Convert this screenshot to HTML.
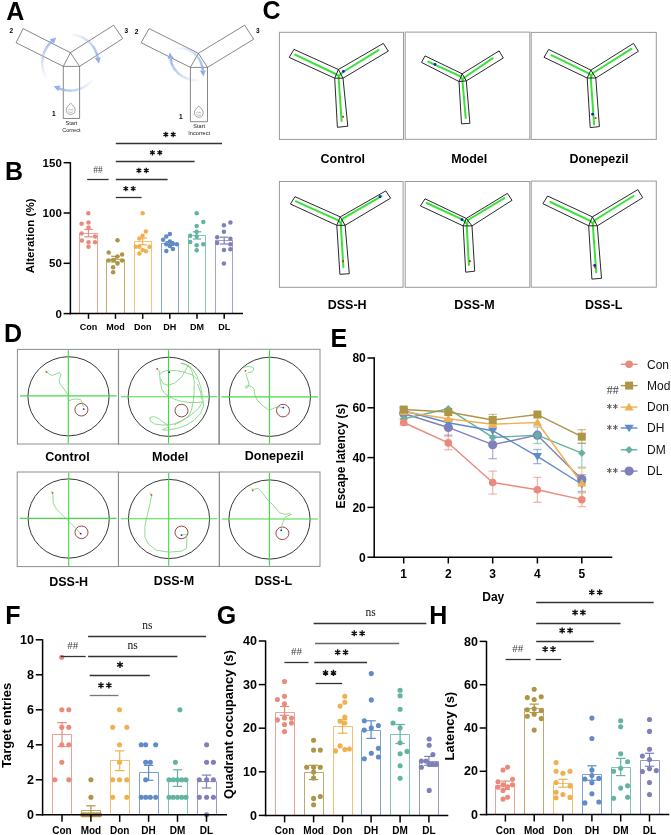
<!DOCTYPE html>
<html><head><meta charset="utf-8"><style>
html,body{margin:0;padding:0;background:#fff;}
body{width:671px;height:835px;overflow:hidden;font-family:"Liberation Sans", sans-serif;}
svg{display:block;will-change:transform;}
</style></head><body>
<svg width="671" height="835" viewBox="0 0 671 835">
<rect x="0" y="0" width="671" height="835" fill="#fff"/>
<text x="6.20" y="19.80" font-size="25" font-weight="bold" text-anchor="start" fill="#000" font-family="Liberation Sans" >A</text>
<text x="5.00" y="180.00" font-size="25" font-weight="bold" text-anchor="start" fill="#000" font-family="Liberation Sans" >B</text>
<text x="262.50" y="19.30" font-size="25" font-weight="bold" text-anchor="start" fill="#000" font-family="Liberation Sans" >C</text>
<text x="3.90" y="342.00" font-size="25" font-weight="bold" text-anchor="start" fill="#000" font-family="Liberation Sans" >D</text>
<text x="330.50" y="347.10" font-size="25" font-weight="bold" text-anchor="start" fill="#000" font-family="Liberation Sans" >E</text>
<text x="5.20" y="624.00" font-size="25" font-weight="bold" text-anchor="start" fill="#000" font-family="Liberation Sans" >F</text>
<text x="216.70" y="623.60" font-size="25" font-weight="bold" text-anchor="start" fill="#000" font-family="Liberation Sans" >G</text>
<text x="429.20" y="623.80" font-size="25" font-weight="bold" text-anchor="start" fill="#000" font-family="Liberation Sans" >H</text>
<polygon points="23.10,28.60 70.40,52.70 63.30,66.40 16.10,42.70" stroke="#555" stroke-width="0.7" fill="none" stroke-linejoin="round" />
<polygon points="70.40,52.70 113.70,25.20 122.70,38.60 79.60,66.40" stroke="#555" stroke-width="0.7" fill="none" stroke-linejoin="round" />
<polygon points="63.30,66.40 79.60,66.40 79.60,118.50 63.30,118.50" stroke="#555" stroke-width="0.7" fill="none" stroke-linejoin="round" />
<polygon points="149.10,28.60 198.40,53.30 190.40,67.40 141.10,42.70" stroke="#555" stroke-width="0.7" fill="none" stroke-linejoin="round" />
<polygon points="198.40,53.30 244.70,25.20 253.70,39.20 207.50,67.40" stroke="#555" stroke-width="0.7" fill="none" stroke-linejoin="round" />
<polygon points="190.40,67.40 207.50,67.40 207.50,121.70 190.40,121.70" stroke="#555" stroke-width="0.7" fill="none" stroke-linejoin="round" />
<text x="11.20" y="33.40" font-size="6.5" font-weight="bold" text-anchor="middle" fill="#000" font-family="Liberation Sans" >2</text>
<text x="126.30" y="33.20" font-size="6.5" font-weight="bold" text-anchor="middle" fill="#000" font-family="Liberation Sans" >3</text>
<text x="53.80" y="116.00" font-size="6.5" font-weight="bold" text-anchor="middle" fill="#000" font-family="Liberation Sans" >1</text>
<text x="136.50" y="33.80" font-size="6.5" font-weight="bold" text-anchor="middle" fill="#000" font-family="Liberation Sans" >2</text>
<text x="257.80" y="33.40" font-size="6.5" font-weight="bold" text-anchor="middle" fill="#000" font-family="Liberation Sans" >3</text>
<text x="180.80" y="118.80" font-size="6.5" font-weight="bold" text-anchor="middle" fill="#000" font-family="Liberation Sans" >1</text>
<text x="71.40" y="124.90" font-size="5.6" font-weight="normal" text-anchor="middle" fill="#222" font-family="Liberation Sans" >Start</text>
<text x="71.40" y="132.20" font-size="5.6" font-weight="normal" text-anchor="middle" fill="#222" font-family="Liberation Sans" >Correct</text>
<text x="199.20" y="128.30" font-size="5.6" font-weight="normal" text-anchor="middle" fill="#222" font-family="Liberation Sans" >Start</text>
<text x="199.20" y="135.40" font-size="5.6" font-weight="normal" text-anchor="middle" fill="#222" font-family="Liberation Sans" >Incorrect</text>
<path d="M70.70,103.20 C72.90,105.30 75.30,107.30 75.10,110.30 C74.90,113.40 72.90,114.40 70.70,114.40 C68.50,114.40 66.50,113.40 66.30,110.30 C66.10,107.30 68.50,105.30 70.70,103.20 Z" fill="none" stroke="#666" stroke-width="0.6"/>
<path d="M68.20,110.10 q1.2,-1.5 2.5,-0.2 q1.3,-1.3 2.5,0.2 M68.50,111.80 q2.2,1.4 4.4,0" fill="none" stroke="#777" stroke-width="0.5"/>
<path d="M198.80,106.00 C201.00,108.10 203.40,110.10 203.20,113.10 C203.00,116.20 201.00,117.20 198.80,117.20 C196.60,117.20 194.60,116.20 194.40,113.10 C194.20,110.10 196.60,108.10 198.80,106.00 Z" fill="none" stroke="#666" stroke-width="0.6"/>
<path d="M196.30,112.90 q1.2,-1.5 2.5,-0.2 q1.3,-1.3 2.5,0.2 M196.60,114.60 q2.2,1.4 4.4,0" fill="none" stroke="#777" stroke-width="0.5"/>
<line x1="45.95" y1="76.60" x2="45.33" y2="75.47" stroke="#93AEE8" stroke-width="2.4" stroke-opacity="0.09"/>
<line x1="45.33" y1="75.47" x2="44.77" y2="74.32" stroke="#93AEE8" stroke-width="2.4" stroke-opacity="0.11"/>
<line x1="44.77" y1="74.32" x2="44.26" y2="73.13" stroke="#93AEE8" stroke-width="2.4" stroke-opacity="0.13"/>
<line x1="44.26" y1="73.13" x2="43.80" y2="71.93" stroke="#93AEE8" stroke-width="2.4" stroke-opacity="0.15"/>
<line x1="43.80" y1="71.93" x2="43.40" y2="70.71" stroke="#93AEE8" stroke-width="2.4" stroke-opacity="0.17"/>
<line x1="43.40" y1="70.71" x2="43.06" y2="69.47" stroke="#93AEE8" stroke-width="2.4" stroke-opacity="0.20"/>
<line x1="43.06" y1="69.47" x2="42.77" y2="68.21" stroke="#93AEE8" stroke-width="2.4" stroke-opacity="0.23"/>
<line x1="42.77" y1="68.21" x2="42.54" y2="66.95" stroke="#93AEE8" stroke-width="2.4" stroke-opacity="0.25"/>
<line x1="42.54" y1="66.95" x2="42.37" y2="65.67" stroke="#93AEE8" stroke-width="2.4" stroke-opacity="0.28"/>
<line x1="42.37" y1="65.67" x2="42.26" y2="64.39" stroke="#93AEE8" stroke-width="2.4" stroke-opacity="0.31"/>
<line x1="42.26" y1="64.39" x2="42.20" y2="63.10" stroke="#93AEE8" stroke-width="2.4" stroke-opacity="0.34"/>
<line x1="42.20" y1="63.10" x2="42.21" y2="61.82" stroke="#93AEE8" stroke-width="2.4" stroke-opacity="0.37"/>
<line x1="42.21" y1="61.82" x2="42.28" y2="60.53" stroke="#93AEE8" stroke-width="2.4" stroke-opacity="0.40"/>
<line x1="42.28" y1="60.53" x2="42.40" y2="59.25" stroke="#93AEE8" stroke-width="2.4" stroke-opacity="0.43"/>
<line x1="42.40" y1="59.25" x2="42.58" y2="57.98" stroke="#93AEE8" stroke-width="2.4" stroke-opacity="0.46"/>
<line x1="42.58" y1="57.98" x2="42.83" y2="56.71" stroke="#93AEE8" stroke-width="2.4" stroke-opacity="0.50"/>
<line x1="42.83" y1="56.71" x2="43.12" y2="55.46" stroke="#93AEE8" stroke-width="2.4" stroke-opacity="0.53"/>
<line x1="43.12" y1="55.46" x2="43.48" y2="54.23" stroke="#93AEE8" stroke-width="2.4" stroke-opacity="0.56"/>
<line x1="43.48" y1="54.23" x2="43.89" y2="53.01" stroke="#93AEE8" stroke-width="2.4" stroke-opacity="0.60"/>
<line x1="43.89" y1="53.01" x2="44.36" y2="51.81" stroke="#93AEE8" stroke-width="2.4" stroke-opacity="0.63"/>
<line x1="44.36" y1="51.81" x2="44.89" y2="50.63" stroke="#93AEE8" stroke-width="2.4" stroke-opacity="0.66"/>
<line x1="44.89" y1="50.63" x2="45.46" y2="49.48" stroke="#93AEE8" stroke-width="2.4" stroke-opacity="0.70"/>
<line x1="45.46" y1="49.48" x2="46.09" y2="48.36" stroke="#93AEE8" stroke-width="2.4" stroke-opacity="0.73"/>
<line x1="46.09" y1="48.36" x2="46.77" y2="47.27" stroke="#93AEE8" stroke-width="2.4" stroke-opacity="0.77"/>
<line x1="46.77" y1="47.27" x2="47.50" y2="46.21" stroke="#93AEE8" stroke-width="2.4" stroke-opacity="0.80"/>
<line x1="47.50" y1="46.21" x2="48.28" y2="45.18" stroke="#93AEE8" stroke-width="2.4" stroke-opacity="0.84"/>
<line x1="48.28" y1="45.18" x2="49.10" y2="44.19" stroke="#93AEE8" stroke-width="2.4" stroke-opacity="0.87"/>
<line x1="49.10" y1="44.19" x2="49.97" y2="43.24" stroke="#93AEE8" stroke-width="2.4" stroke-opacity="0.91"/>
<line x1="49.97" y1="43.24" x2="50.88" y2="42.33" stroke="#93AEE8" stroke-width="2.4" stroke-opacity="0.95"/>
<line x1="50.88" y1="42.33" x2="51.83" y2="41.47" stroke="#93AEE8" stroke-width="2.4" stroke-opacity="0.98"/>
<polygon points="56.27,37.43 53.85,43.69 49.81,39.25" fill="#93AEE8"/>
<line x1="71.18" y1="34.62" x2="72.45" y2="34.69" stroke="#93AEE8" stroke-width="2.4" stroke-opacity="0.09"/>
<line x1="72.45" y1="34.69" x2="73.71" y2="34.82" stroke="#93AEE8" stroke-width="2.4" stroke-opacity="0.11"/>
<line x1="73.71" y1="34.82" x2="74.97" y2="35.01" stroke="#93AEE8" stroke-width="2.4" stroke-opacity="0.13"/>
<line x1="74.97" y1="35.01" x2="76.21" y2="35.25" stroke="#93AEE8" stroke-width="2.4" stroke-opacity="0.15"/>
<line x1="76.21" y1="35.25" x2="77.45" y2="35.55" stroke="#93AEE8" stroke-width="2.4" stroke-opacity="0.17"/>
<line x1="77.45" y1="35.55" x2="78.67" y2="35.91" stroke="#93AEE8" stroke-width="2.4" stroke-opacity="0.20"/>
<line x1="78.67" y1="35.91" x2="79.87" y2="36.32" stroke="#93AEE8" stroke-width="2.4" stroke-opacity="0.23"/>
<line x1="79.87" y1="36.32" x2="81.05" y2="36.79" stroke="#93AEE8" stroke-width="2.4" stroke-opacity="0.25"/>
<line x1="81.05" y1="36.79" x2="82.21" y2="37.31" stroke="#93AEE8" stroke-width="2.4" stroke-opacity="0.28"/>
<line x1="82.21" y1="37.31" x2="83.35" y2="37.88" stroke="#93AEE8" stroke-width="2.4" stroke-opacity="0.31"/>
<line x1="83.35" y1="37.88" x2="84.45" y2="38.50" stroke="#93AEE8" stroke-width="2.4" stroke-opacity="0.34"/>
<line x1="84.45" y1="38.50" x2="85.53" y2="39.17" stroke="#93AEE8" stroke-width="2.4" stroke-opacity="0.37"/>
<line x1="85.53" y1="39.17" x2="86.58" y2="39.89" stroke="#93AEE8" stroke-width="2.4" stroke-opacity="0.40"/>
<line x1="86.58" y1="39.89" x2="87.59" y2="40.66" stroke="#93AEE8" stroke-width="2.4" stroke-opacity="0.43"/>
<line x1="87.59" y1="40.66" x2="88.57" y2="41.47" stroke="#93AEE8" stroke-width="2.4" stroke-opacity="0.46"/>
<line x1="88.57" y1="41.47" x2="89.51" y2="42.32" stroke="#93AEE8" stroke-width="2.4" stroke-opacity="0.50"/>
<line x1="89.51" y1="42.32" x2="90.41" y2="43.22" stroke="#93AEE8" stroke-width="2.4" stroke-opacity="0.53"/>
<line x1="90.41" y1="43.22" x2="91.27" y2="44.16" stroke="#93AEE8" stroke-width="2.4" stroke-opacity="0.56"/>
<line x1="91.27" y1="44.16" x2="92.08" y2="45.13" stroke="#93AEE8" stroke-width="2.4" stroke-opacity="0.60"/>
<line x1="92.08" y1="45.13" x2="92.85" y2="46.14" stroke="#93AEE8" stroke-width="2.4" stroke-opacity="0.63"/>
<line x1="92.85" y1="46.14" x2="93.58" y2="47.19" stroke="#93AEE8" stroke-width="2.4" stroke-opacity="0.66"/>
<line x1="93.58" y1="47.19" x2="94.25" y2="48.26" stroke="#93AEE8" stroke-width="2.4" stroke-opacity="0.70"/>
<line x1="94.25" y1="48.26" x2="94.88" y2="49.37" stroke="#93AEE8" stroke-width="2.4" stroke-opacity="0.73"/>
<line x1="94.88" y1="49.37" x2="95.45" y2="50.50" stroke="#93AEE8" stroke-width="2.4" stroke-opacity="0.77"/>
<line x1="95.45" y1="50.50" x2="95.97" y2="51.66" stroke="#93AEE8" stroke-width="2.4" stroke-opacity="0.80"/>
<line x1="95.97" y1="51.66" x2="96.44" y2="52.84" stroke="#93AEE8" stroke-width="2.4" stroke-opacity="0.84"/>
<line x1="96.44" y1="52.84" x2="96.86" y2="54.04" stroke="#93AEE8" stroke-width="2.4" stroke-opacity="0.87"/>
<line x1="96.86" y1="54.04" x2="97.22" y2="55.26" stroke="#93AEE8" stroke-width="2.4" stroke-opacity="0.91"/>
<line x1="97.22" y1="55.26" x2="97.53" y2="56.49" stroke="#93AEE8" stroke-width="2.4" stroke-opacity="0.95"/>
<line x1="97.53" y1="56.49" x2="97.77" y2="57.74" stroke="#93AEE8" stroke-width="2.4" stroke-opacity="0.98"/>
<polygon points="98.95,63.62 94.83,58.33 100.72,57.15" fill="#93AEE8"/>
<line x1="92.26" y1="79.84" x2="91.49" y2="80.78" stroke="#93AEE8" stroke-width="2.4" stroke-opacity="0.09"/>
<line x1="91.49" y1="80.78" x2="90.68" y2="81.70" stroke="#93AEE8" stroke-width="2.4" stroke-opacity="0.11"/>
<line x1="90.68" y1="81.70" x2="89.83" y2="82.57" stroke="#93AEE8" stroke-width="2.4" stroke-opacity="0.13"/>
<line x1="89.83" y1="82.57" x2="88.94" y2="83.41" stroke="#93AEE8" stroke-width="2.4" stroke-opacity="0.15"/>
<line x1="88.94" y1="83.41" x2="88.01" y2="84.21" stroke="#93AEE8" stroke-width="2.4" stroke-opacity="0.17"/>
<line x1="88.01" y1="84.21" x2="87.05" y2="84.96" stroke="#93AEE8" stroke-width="2.4" stroke-opacity="0.20"/>
<line x1="87.05" y1="84.96" x2="86.06" y2="85.68" stroke="#93AEE8" stroke-width="2.4" stroke-opacity="0.23"/>
<line x1="86.06" y1="85.68" x2="85.04" y2="86.35" stroke="#93AEE8" stroke-width="2.4" stroke-opacity="0.25"/>
<line x1="85.04" y1="86.35" x2="83.99" y2="86.97" stroke="#93AEE8" stroke-width="2.4" stroke-opacity="0.28"/>
<line x1="83.99" y1="86.97" x2="82.91" y2="87.55" stroke="#93AEE8" stroke-width="2.4" stroke-opacity="0.31"/>
<line x1="82.91" y1="87.55" x2="81.81" y2="88.08" stroke="#93AEE8" stroke-width="2.4" stroke-opacity="0.34"/>
<line x1="81.81" y1="88.08" x2="80.69" y2="88.56" stroke="#93AEE8" stroke-width="2.4" stroke-opacity="0.37"/>
<line x1="80.69" y1="88.56" x2="79.55" y2="88.99" stroke="#93AEE8" stroke-width="2.4" stroke-opacity="0.40"/>
<line x1="79.55" y1="88.99" x2="78.39" y2="89.38" stroke="#93AEE8" stroke-width="2.4" stroke-opacity="0.43"/>
<line x1="78.39" y1="89.38" x2="77.21" y2="89.71" stroke="#93AEE8" stroke-width="2.4" stroke-opacity="0.46"/>
<line x1="77.21" y1="89.71" x2="76.02" y2="89.99" stroke="#93AEE8" stroke-width="2.4" stroke-opacity="0.50"/>
<line x1="76.02" y1="89.99" x2="74.82" y2="90.22" stroke="#93AEE8" stroke-width="2.4" stroke-opacity="0.53"/>
<line x1="74.82" y1="90.22" x2="73.61" y2="90.39" stroke="#93AEE8" stroke-width="2.4" stroke-opacity="0.56"/>
<line x1="73.61" y1="90.39" x2="72.40" y2="90.51" stroke="#93AEE8" stroke-width="2.4" stroke-opacity="0.60"/>
<line x1="72.40" y1="90.51" x2="71.18" y2="90.58" stroke="#93AEE8" stroke-width="2.4" stroke-opacity="0.63"/>
<line x1="71.18" y1="90.58" x2="69.96" y2="90.60" stroke="#93AEE8" stroke-width="2.4" stroke-opacity="0.66"/>
<line x1="69.96" y1="90.60" x2="68.73" y2="90.56" stroke="#93AEE8" stroke-width="2.4" stroke-opacity="0.70"/>
<line x1="68.73" y1="90.56" x2="67.52" y2="90.47" stroke="#93AEE8" stroke-width="2.4" stroke-opacity="0.73"/>
<line x1="67.52" y1="90.47" x2="66.30" y2="90.33" stroke="#93AEE8" stroke-width="2.4" stroke-opacity="0.77"/>
<line x1="66.30" y1="90.33" x2="65.10" y2="90.13" stroke="#93AEE8" stroke-width="2.4" stroke-opacity="0.80"/>
<line x1="65.10" y1="90.13" x2="63.90" y2="89.88" stroke="#93AEE8" stroke-width="2.4" stroke-opacity="0.84"/>
<line x1="63.90" y1="89.88" x2="62.72" y2="89.58" stroke="#93AEE8" stroke-width="2.4" stroke-opacity="0.87"/>
<line x1="62.72" y1="89.58" x2="61.55" y2="89.23" stroke="#93AEE8" stroke-width="2.4" stroke-opacity="0.91"/>
<line x1="61.55" y1="89.23" x2="60.39" y2="88.83" stroke="#93AEE8" stroke-width="2.4" stroke-opacity="0.95"/>
<line x1="60.39" y1="88.83" x2="59.26" y2="88.37" stroke="#93AEE8" stroke-width="2.4" stroke-opacity="0.98"/>
<polygon points="53.69,86.15 60.37,85.59 58.15,91.16" fill="#93AEE8"/>
<line x1="198.50" y1="80.40" x2="197.25" y2="80.39" stroke="#93AEE8" stroke-width="2.4" stroke-opacity="0.09"/>
<line x1="197.25" y1="80.39" x2="195.99" y2="80.33" stroke="#93AEE8" stroke-width="2.4" stroke-opacity="0.11"/>
<line x1="195.99" y1="80.33" x2="194.73" y2="80.22" stroke="#93AEE8" stroke-width="2.4" stroke-opacity="0.13"/>
<line x1="194.73" y1="80.22" x2="193.48" y2="80.06" stroke="#93AEE8" stroke-width="2.4" stroke-opacity="0.15"/>
<line x1="193.48" y1="80.06" x2="192.22" y2="79.85" stroke="#93AEE8" stroke-width="2.4" stroke-opacity="0.17"/>
<line x1="192.22" y1="79.85" x2="190.98" y2="79.60" stroke="#93AEE8" stroke-width="2.4" stroke-opacity="0.20"/>
<line x1="190.98" y1="79.60" x2="189.75" y2="79.30" stroke="#93AEE8" stroke-width="2.4" stroke-opacity="0.23"/>
<line x1="189.75" y1="79.30" x2="188.53" y2="78.95" stroke="#93AEE8" stroke-width="2.4" stroke-opacity="0.25"/>
<line x1="188.53" y1="78.95" x2="187.32" y2="78.55" stroke="#93AEE8" stroke-width="2.4" stroke-opacity="0.28"/>
<line x1="187.32" y1="78.55" x2="186.13" y2="78.10" stroke="#93AEE8" stroke-width="2.4" stroke-opacity="0.31"/>
<line x1="186.13" y1="78.10" x2="184.97" y2="77.60" stroke="#93AEE8" stroke-width="2.4" stroke-opacity="0.34"/>
<line x1="184.97" y1="77.60" x2="183.83" y2="77.05" stroke="#93AEE8" stroke-width="2.4" stroke-opacity="0.37"/>
<line x1="183.83" y1="77.05" x2="182.71" y2="76.46" stroke="#93AEE8" stroke-width="2.4" stroke-opacity="0.40"/>
<line x1="182.71" y1="76.46" x2="181.63" y2="75.81" stroke="#93AEE8" stroke-width="2.4" stroke-opacity="0.43"/>
<line x1="181.63" y1="75.81" x2="180.57" y2="75.11" stroke="#93AEE8" stroke-width="2.4" stroke-opacity="0.46"/>
<line x1="180.57" y1="75.11" x2="179.56" y2="74.36" stroke="#93AEE8" stroke-width="2.4" stroke-opacity="0.50"/>
<line x1="179.56" y1="74.36" x2="178.58" y2="73.57" stroke="#93AEE8" stroke-width="2.4" stroke-opacity="0.53"/>
<line x1="178.58" y1="73.57" x2="177.64" y2="72.72" stroke="#93AEE8" stroke-width="2.4" stroke-opacity="0.56"/>
<line x1="177.64" y1="72.72" x2="176.75" y2="71.82" stroke="#93AEE8" stroke-width="2.4" stroke-opacity="0.60"/>
<line x1="176.75" y1="71.82" x2="175.90" y2="70.87" stroke="#93AEE8" stroke-width="2.4" stroke-opacity="0.63"/>
<line x1="175.90" y1="70.87" x2="175.10" y2="69.86" stroke="#93AEE8" stroke-width="2.4" stroke-opacity="0.66"/>
<line x1="175.10" y1="69.86" x2="174.36" y2="68.81" stroke="#93AEE8" stroke-width="2.4" stroke-opacity="0.70"/>
<line x1="174.36" y1="68.81" x2="173.66" y2="67.70" stroke="#93AEE8" stroke-width="2.4" stroke-opacity="0.73"/>
<line x1="173.66" y1="67.70" x2="173.03" y2="66.55" stroke="#93AEE8" stroke-width="2.4" stroke-opacity="0.77"/>
<line x1="173.03" y1="66.55" x2="172.46" y2="65.34" stroke="#93AEE8" stroke-width="2.4" stroke-opacity="0.80"/>
<line x1="172.46" y1="65.34" x2="171.95" y2="64.08" stroke="#93AEE8" stroke-width="2.4" stroke-opacity="0.84"/>
<line x1="171.95" y1="64.08" x2="171.51" y2="62.76" stroke="#93AEE8" stroke-width="2.4" stroke-opacity="0.87"/>
<line x1="171.51" y1="62.76" x2="171.13" y2="61.39" stroke="#93AEE8" stroke-width="2.4" stroke-opacity="0.91"/>
<line x1="171.13" y1="61.39" x2="170.83" y2="59.97" stroke="#93AEE8" stroke-width="2.4" stroke-opacity="0.95"/>
<line x1="170.83" y1="59.97" x2="170.60" y2="58.50" stroke="#93AEE8" stroke-width="2.4" stroke-opacity="0.98"/>
<polygon points="169.68,52.57 173.56,58.04 167.64,58.96" fill="#93AEE8"/>
<line x1="176.50" y1="48.40" x2="177.84" y2="48.25" stroke="#93AEE8" stroke-width="2.4" stroke-opacity="0.09"/>
<line x1="177.84" y1="48.25" x2="179.17" y2="48.17" stroke="#93AEE8" stroke-width="2.4" stroke-opacity="0.11"/>
<line x1="179.17" y1="48.17" x2="180.48" y2="48.17" stroke="#93AEE8" stroke-width="2.4" stroke-opacity="0.13"/>
<line x1="180.48" y1="48.17" x2="181.77" y2="48.23" stroke="#93AEE8" stroke-width="2.4" stroke-opacity="0.15"/>
<line x1="181.77" y1="48.23" x2="183.05" y2="48.37" stroke="#93AEE8" stroke-width="2.4" stroke-opacity="0.17"/>
<line x1="183.05" y1="48.37" x2="184.29" y2="48.58" stroke="#93AEE8" stroke-width="2.4" stroke-opacity="0.20"/>
<line x1="184.29" y1="48.58" x2="185.52" y2="48.85" stroke="#93AEE8" stroke-width="2.4" stroke-opacity="0.23"/>
<line x1="185.52" y1="48.85" x2="186.72" y2="49.19" stroke="#93AEE8" stroke-width="2.4" stroke-opacity="0.25"/>
<line x1="186.72" y1="49.19" x2="187.89" y2="49.60" stroke="#93AEE8" stroke-width="2.4" stroke-opacity="0.28"/>
<line x1="187.89" y1="49.60" x2="189.03" y2="50.06" stroke="#93AEE8" stroke-width="2.4" stroke-opacity="0.31"/>
<line x1="189.03" y1="50.06" x2="190.14" y2="50.59" stroke="#93AEE8" stroke-width="2.4" stroke-opacity="0.34"/>
<line x1="190.14" y1="50.59" x2="191.22" y2="51.18" stroke="#93AEE8" stroke-width="2.4" stroke-opacity="0.37"/>
<line x1="191.22" y1="51.18" x2="192.26" y2="51.83" stroke="#93AEE8" stroke-width="2.4" stroke-opacity="0.40"/>
<line x1="192.26" y1="51.83" x2="193.26" y2="52.54" stroke="#93AEE8" stroke-width="2.4" stroke-opacity="0.43"/>
<line x1="193.26" y1="52.54" x2="194.22" y2="53.30" stroke="#93AEE8" stroke-width="2.4" stroke-opacity="0.46"/>
<line x1="194.22" y1="53.30" x2="195.15" y2="54.12" stroke="#93AEE8" stroke-width="2.4" stroke-opacity="0.50"/>
<line x1="195.15" y1="54.12" x2="196.03" y2="54.99" stroke="#93AEE8" stroke-width="2.4" stroke-opacity="0.53"/>
<line x1="196.03" y1="54.99" x2="196.87" y2="55.91" stroke="#93AEE8" stroke-width="2.4" stroke-opacity="0.56"/>
<line x1="196.87" y1="55.91" x2="197.66" y2="56.88" stroke="#93AEE8" stroke-width="2.4" stroke-opacity="0.60"/>
<line x1="197.66" y1="56.88" x2="198.40" y2="57.90" stroke="#93AEE8" stroke-width="2.4" stroke-opacity="0.63"/>
<line x1="198.40" y1="57.90" x2="199.10" y2="58.97" stroke="#93AEE8" stroke-width="2.4" stroke-opacity="0.66"/>
<line x1="199.10" y1="58.97" x2="199.74" y2="60.09" stroke="#93AEE8" stroke-width="2.4" stroke-opacity="0.70"/>
<line x1="199.74" y1="60.09" x2="200.33" y2="61.25" stroke="#93AEE8" stroke-width="2.4" stroke-opacity="0.73"/>
<line x1="200.33" y1="61.25" x2="200.86" y2="62.45" stroke="#93AEE8" stroke-width="2.4" stroke-opacity="0.77"/>
<line x1="200.86" y1="62.45" x2="201.34" y2="63.70" stroke="#93AEE8" stroke-width="2.4" stroke-opacity="0.80"/>
<line x1="201.34" y1="63.70" x2="201.76" y2="64.98" stroke="#93AEE8" stroke-width="2.4" stroke-opacity="0.84"/>
<line x1="201.76" y1="64.98" x2="202.11" y2="66.31" stroke="#93AEE8" stroke-width="2.4" stroke-opacity="0.87"/>
<line x1="202.11" y1="66.31" x2="202.41" y2="67.67" stroke="#93AEE8" stroke-width="2.4" stroke-opacity="0.91"/>
<line x1="202.41" y1="67.67" x2="202.64" y2="69.07" stroke="#93AEE8" stroke-width="2.4" stroke-opacity="0.95"/>
<line x1="202.64" y1="69.07" x2="202.80" y2="70.50" stroke="#93AEE8" stroke-width="2.4" stroke-opacity="0.98"/>
<polygon points="203.48,76.46 199.82,70.84 205.78,70.16" fill="#93AEE8"/>
<path d="M79.50,313.60 L79.50,233.50 L97.50,233.50 L97.50,313.60" fill="none" stroke="#EFA79C" stroke-width="1.05" stroke-opacity="1.0"/>
<path d="M106.50,313.60 L106.50,259.50 L124.50,259.50 L124.50,313.60" fill="none" stroke="#C2AD6C" stroke-width="1.05" stroke-opacity="1.0"/>
<path d="M134.50,313.60 L134.50,241.50 L151.50,241.50 L151.50,313.60" fill="none" stroke="#F4C47A" stroke-width="1.05" stroke-opacity="1.0"/>
<path d="M161.50,313.60 L161.50,243.50 L178.50,243.50 L178.50,313.60" fill="none" stroke="#86A6D6" stroke-width="1.05" stroke-opacity="1.0"/>
<path d="M188.50,313.60 L188.50,235.50 L205.50,235.50 L205.50,313.60" fill="none" stroke="#8AC5B8" stroke-width="1.05" stroke-opacity="1.0"/>
<path d="M215.50,313.60 L215.50,240.50 L232.50,240.50 L232.50,313.60" fill="none" stroke="#A2A3CC" stroke-width="1.05" stroke-opacity="1.0"/>
<circle cx="88.30" cy="213.30" r="2.25" fill="#E98A7C" stroke="none" stroke-width="1" />
<circle cx="81.60" cy="223.80" r="2.25" fill="#E98A7C" stroke="none" stroke-width="1" />
<circle cx="88.50" cy="222.60" r="2.25" fill="#E98A7C" stroke="none" stroke-width="1" />
<circle cx="88.50" cy="227.60" r="2.25" fill="#E98A7C" stroke="none" stroke-width="1" />
<circle cx="81.60" cy="233.40" r="2.25" fill="#E98A7C" stroke="none" stroke-width="1" />
<circle cx="95.00" cy="236.60" r="2.25" fill="#E98A7C" stroke="none" stroke-width="1" />
<circle cx="81.90" cy="240.50" r="2.25" fill="#E98A7C" stroke="none" stroke-width="1" />
<circle cx="88.50" cy="242.20" r="2.25" fill="#E98A7C" stroke="none" stroke-width="1" />
<circle cx="95.00" cy="242.20" r="2.25" fill="#E98A7C" stroke="none" stroke-width="1" />
<circle cx="88.50" cy="246.70" r="2.25" fill="#E98A7C" stroke="none" stroke-width="1" />
<circle cx="117.50" cy="240.20" r="2.25" fill="#AE9547" stroke="none" stroke-width="1" />
<circle cx="108.70" cy="252.40" r="2.25" fill="#AE9547" stroke="none" stroke-width="1" />
<circle cx="122.10" cy="254.50" r="2.25" fill="#AE9547" stroke="none" stroke-width="1" />
<circle cx="117.50" cy="256.50" r="2.25" fill="#AE9547" stroke="none" stroke-width="1" />
<circle cx="108.70" cy="260.40" r="2.25" fill="#AE9547" stroke="none" stroke-width="1" />
<circle cx="113.10" cy="260.10" r="2.25" fill="#AE9547" stroke="none" stroke-width="1" />
<circle cx="122.10" cy="260.40" r="2.25" fill="#AE9547" stroke="none" stroke-width="1" />
<circle cx="117.50" cy="263.40" r="2.25" fill="#AE9547" stroke="none" stroke-width="1" />
<circle cx="113.10" cy="267.20" r="2.25" fill="#AE9547" stroke="none" stroke-width="1" />
<circle cx="113.10" cy="272.30" r="2.25" fill="#AE9547" stroke="none" stroke-width="1" />
<circle cx="142.60" cy="213.30" r="2.25" fill="#F0B050" stroke="none" stroke-width="1" />
<circle cx="145.90" cy="231.50" r="2.25" fill="#F0B050" stroke="none" stroke-width="1" />
<circle cx="142.60" cy="235.70" r="2.25" fill="#F0B050" stroke="none" stroke-width="1" />
<circle cx="139.40" cy="238.60" r="2.25" fill="#F0B050" stroke="none" stroke-width="1" />
<circle cx="135.80" cy="246.70" r="2.25" fill="#F0B050" stroke="none" stroke-width="1" />
<circle cx="139.40" cy="246.70" r="2.25" fill="#F0B050" stroke="none" stroke-width="1" />
<circle cx="149.50" cy="246.70" r="2.25" fill="#F0B050" stroke="none" stroke-width="1" />
<circle cx="142.60" cy="250.10" r="2.25" fill="#F0B050" stroke="none" stroke-width="1" />
<circle cx="145.90" cy="251.20" r="2.25" fill="#F0B050" stroke="none" stroke-width="1" />
<circle cx="139.40" cy="253.60" r="2.25" fill="#F0B050" stroke="none" stroke-width="1" />
<circle cx="169.90" cy="234.00" r="2.25" fill="#5F8BC9" stroke="none" stroke-width="1" />
<circle cx="166.30" cy="236.60" r="2.25" fill="#5F8BC9" stroke="none" stroke-width="1" />
<circle cx="163.10" cy="239.80" r="2.25" fill="#5F8BC9" stroke="none" stroke-width="1" />
<circle cx="169.90" cy="241.40" r="2.25" fill="#5F8BC9" stroke="none" stroke-width="1" />
<circle cx="166.30" cy="244.30" r="2.25" fill="#5F8BC9" stroke="none" stroke-width="1" />
<circle cx="172.90" cy="243.70" r="2.25" fill="#5F8BC9" stroke="none" stroke-width="1" />
<circle cx="176.80" cy="244.30" r="2.25" fill="#5F8BC9" stroke="none" stroke-width="1" />
<circle cx="169.90" cy="246.10" r="2.25" fill="#5F8BC9" stroke="none" stroke-width="1" />
<circle cx="172.90" cy="248.90" r="2.25" fill="#5F8BC9" stroke="none" stroke-width="1" />
<circle cx="166.30" cy="250.90" r="2.25" fill="#5F8BC9" stroke="none" stroke-width="1" />
<circle cx="196.70" cy="213.30" r="2.25" fill="#63B3A2" stroke="none" stroke-width="1" />
<circle cx="203.30" cy="221.90" r="2.25" fill="#63B3A2" stroke="none" stroke-width="1" />
<circle cx="196.70" cy="226.10" r="2.25" fill="#63B3A2" stroke="none" stroke-width="1" />
<circle cx="196.70" cy="231.80" r="2.25" fill="#63B3A2" stroke="none" stroke-width="1" />
<circle cx="190.20" cy="235.80" r="2.25" fill="#63B3A2" stroke="none" stroke-width="1" />
<circle cx="196.70" cy="236.60" r="2.25" fill="#63B3A2" stroke="none" stroke-width="1" />
<circle cx="190.20" cy="242.00" r="2.25" fill="#63B3A2" stroke="none" stroke-width="1" />
<circle cx="196.70" cy="245.20" r="2.25" fill="#63B3A2" stroke="none" stroke-width="1" />
<circle cx="203.30" cy="244.30" r="2.25" fill="#63B3A2" stroke="none" stroke-width="1" />
<circle cx="196.70" cy="250.30" r="2.25" fill="#63B3A2" stroke="none" stroke-width="1" />
<circle cx="230.40" cy="222.60" r="2.25" fill="#7F80B9" stroke="none" stroke-width="1" />
<circle cx="223.90" cy="225.30" r="2.25" fill="#7F80B9" stroke="none" stroke-width="1" />
<circle cx="223.90" cy="231.80" r="2.25" fill="#7F80B9" stroke="none" stroke-width="1" />
<circle cx="217.20" cy="237.20" r="2.25" fill="#7F80B9" stroke="none" stroke-width="1" />
<circle cx="230.40" cy="238.70" r="2.25" fill="#7F80B9" stroke="none" stroke-width="1" />
<circle cx="217.20" cy="243.10" r="2.25" fill="#7F80B9" stroke="none" stroke-width="1" />
<circle cx="230.40" cy="244.30" r="2.25" fill="#7F80B9" stroke="none" stroke-width="1" />
<circle cx="223.90" cy="249.90" r="2.25" fill="#7F80B9" stroke="none" stroke-width="1" />
<circle cx="230.40" cy="249.30" r="2.25" fill="#7F80B9" stroke="none" stroke-width="1" />
<circle cx="223.90" cy="263.40" r="2.25" fill="#7F80B9" stroke="none" stroke-width="1" />
<line x1="88.50" y1="229.40" x2="88.50" y2="236.80" stroke="#E98A7C" stroke-width="1.2" />
<line x1="84.30" y1="229.40" x2="92.70" y2="229.40" stroke="#E98A7C" stroke-width="1.2" />
<line x1="84.30" y1="236.80" x2="92.70" y2="236.80" stroke="#E98A7C" stroke-width="1.2" />
<line x1="115.50" y1="256.30" x2="115.50" y2="262.00" stroke="#AE9547" stroke-width="1.2" />
<line x1="111.30" y1="256.30" x2="119.70" y2="256.30" stroke="#AE9547" stroke-width="1.2" />
<line x1="111.30" y1="262.00" x2="119.70" y2="262.00" stroke="#AE9547" stroke-width="1.2" />
<line x1="142.70" y1="238.00" x2="142.70" y2="244.80" stroke="#F0B050" stroke-width="1.2" />
<line x1="138.50" y1="238.00" x2="146.90" y2="238.00" stroke="#F0B050" stroke-width="1.2" />
<line x1="138.50" y1="244.80" x2="146.90" y2="244.80" stroke="#F0B050" stroke-width="1.2" />
<line x1="169.80" y1="241.60" x2="169.80" y2="245.20" stroke="#5F8BC9" stroke-width="1.2" />
<line x1="165.60" y1="241.60" x2="174.00" y2="241.60" stroke="#5F8BC9" stroke-width="1.2" />
<line x1="165.60" y1="245.20" x2="174.00" y2="245.20" stroke="#5F8BC9" stroke-width="1.2" />
<line x1="197.00" y1="231.80" x2="197.00" y2="239.00" stroke="#63B3A2" stroke-width="1.2" />
<line x1="192.80" y1="231.80" x2="201.20" y2="231.80" stroke="#63B3A2" stroke-width="1.2" />
<line x1="192.80" y1="239.00" x2="201.20" y2="239.00" stroke="#63B3A2" stroke-width="1.2" />
<line x1="224.20" y1="237.20" x2="224.20" y2="244.00" stroke="#7F80B9" stroke-width="1.2" />
<line x1="220.00" y1="237.20" x2="228.40" y2="237.20" stroke="#7F80B9" stroke-width="1.2" />
<line x1="220.00" y1="244.00" x2="228.40" y2="244.00" stroke="#7F80B9" stroke-width="1.2" />
<line x1="70.40" y1="162.20" x2="70.40" y2="314.35" stroke="#000" stroke-width="1.5" />
<line x1="69.65" y1="313.60" x2="243.00" y2="313.60" stroke="#000" stroke-width="1.5" />
<line x1="63.60" y1="313.60" x2="70.40" y2="313.60" stroke="#000" stroke-width="1.5" />
<text x="61.80" y="317.70" font-size="11.5" font-weight="bold" text-anchor="end" fill="#000" font-family="Liberation Sans" >0</text>
<line x1="63.60" y1="263.30" x2="70.40" y2="263.30" stroke="#000" stroke-width="1.5" />
<text x="61.80" y="267.40" font-size="11.5" font-weight="bold" text-anchor="end" fill="#000" font-family="Liberation Sans" >50</text>
<line x1="63.60" y1="213.00" x2="70.40" y2="213.00" stroke="#000" stroke-width="1.5" />
<text x="61.80" y="217.10" font-size="11.5" font-weight="bold" text-anchor="end" fill="#000" font-family="Liberation Sans" >100</text>
<line x1="63.60" y1="162.70" x2="70.40" y2="162.70" stroke="#000" stroke-width="1.5" />
<text x="61.80" y="166.80" font-size="11.5" font-weight="bold" text-anchor="end" fill="#000" font-family="Liberation Sans" >150</text>
<line x1="88.50" y1="313.60" x2="88.50" y2="318.80" stroke="#000" stroke-width="1.5" />
<text x="88.50" y="330.30" font-size="9" font-weight="bold" text-anchor="middle" fill="#000" font-family="Liberation Sans" >Con</text>
<line x1="115.50" y1="313.60" x2="115.50" y2="318.80" stroke="#000" stroke-width="1.5" />
<text x="115.50" y="330.30" font-size="9" font-weight="bold" text-anchor="middle" fill="#000" font-family="Liberation Sans" >Mod</text>
<line x1="142.70" y1="313.60" x2="142.70" y2="318.80" stroke="#000" stroke-width="1.5" />
<text x="142.70" y="330.30" font-size="9" font-weight="bold" text-anchor="middle" fill="#000" font-family="Liberation Sans" >Don</text>
<line x1="169.80" y1="313.60" x2="169.80" y2="318.80" stroke="#000" stroke-width="1.5" />
<text x="169.80" y="330.30" font-size="9" font-weight="bold" text-anchor="middle" fill="#000" font-family="Liberation Sans" >DH</text>
<line x1="197.00" y1="313.60" x2="197.00" y2="318.80" stroke="#000" stroke-width="1.5" />
<text x="197.00" y="330.30" font-size="9" font-weight="bold" text-anchor="middle" fill="#000" font-family="Liberation Sans" >DM</text>
<line x1="224.20" y1="313.60" x2="224.20" y2="318.80" stroke="#000" stroke-width="1.5" />
<text x="224.20" y="330.30" font-size="9" font-weight="bold" text-anchor="middle" fill="#000" font-family="Liberation Sans" >DL</text>
<text x="34.00" y="235.90" font-size="11.5" font-weight="bold" text-anchor="middle" fill="#000" font-family="Liberation Sans" transform="rotate(-90 34.00 235.90)">Alteration (%)</text>
<line x1="115.80" y1="143.50" x2="222.00" y2="143.50" stroke="#333" stroke-width="1.3" />
<path d="M165.80,131.80 L165.80,137.20 M163.46,133.15 L168.14,135.85 M163.46,135.85 L168.14,133.15 " stroke="#111" stroke-width="1.25" fill="none" stroke-linecap="butt"/>
<path d="M173.20,131.80 L173.20,137.20 M170.86,133.15 L175.54,135.85 M170.86,135.85 L175.54,133.15 " stroke="#111" stroke-width="1.25" fill="none" stroke-linecap="butt"/>
<line x1="115.80" y1="161.50" x2="194.60" y2="161.50" stroke="#333" stroke-width="1.3" />
<path d="M152.40,150.00 L152.40,155.40 M150.06,151.35 L154.74,154.05 M150.06,154.05 L154.74,151.35 " stroke="#111" stroke-width="1.25" fill="none" stroke-linecap="butt"/>
<path d="M159.80,150.00 L159.80,155.40 M157.46,151.35 L162.14,154.05 M157.46,154.05 L162.14,151.35 " stroke="#111" stroke-width="1.25" fill="none" stroke-linecap="butt"/>
<line x1="115.80" y1="179.50" x2="167.60" y2="179.50" stroke="#333" stroke-width="1.3" />
<path d="M138.90,167.80 L138.90,173.20 M136.56,169.15 L141.24,171.85 M136.56,171.85 L141.24,169.15 " stroke="#111" stroke-width="1.25" fill="none" stroke-linecap="butt"/>
<path d="M146.30,167.80 L146.30,173.20 M143.96,169.15 L148.64,171.85 M143.96,171.85 L148.64,169.15 " stroke="#111" stroke-width="1.25" fill="none" stroke-linecap="butt"/>
<line x1="115.80" y1="197.50" x2="141.60" y2="197.50" stroke="#333" stroke-width="1.3" />
<path d="M125.80,185.90 L125.80,191.30 M123.46,187.25 L128.14,189.95 M123.46,189.95 L128.14,187.25 " stroke="#111" stroke-width="1.25" fill="none" stroke-linecap="butt"/>
<path d="M133.20,185.90 L133.20,191.30 M130.86,187.25 L135.54,189.95 M130.86,189.95 L135.54,187.25 " stroke="#111" stroke-width="1.25" fill="none" stroke-linecap="butt"/>
<line x1="87.20" y1="179.50" x2="108.60" y2="179.50" stroke="#333" stroke-width="1.3" />
<text x="98.10" y="172.60" font-size="9.5" font-weight="normal" text-anchor="middle" fill="#444" font-family="Liberation Serif" >##</text>
<rect x="279.40" y="32.30" width="124.10" height="107.10" fill="none" stroke="#9A9A9A" stroke-width="1.0" />
<rect x="405.20" y="32.10" width="124.60" height="107.20" fill="none" stroke="#9A9A9A" stroke-width="1.0" />
<rect x="531.20" y="32.40" width="125.10" height="107.00" fill="none" stroke="#9A9A9A" stroke-width="1.0" />
<rect x="279.40" y="181.50" width="123.70" height="105.80" fill="none" stroke="#9A9A9A" stroke-width="1.0" />
<rect x="405.20" y="181.50" width="124.60" height="105.80" fill="none" stroke="#9A9A9A" stroke-width="1.0" />
<rect x="531.20" y="181.10" width="125.10" height="106.10" fill="none" stroke="#9A9A9A" stroke-width="1.0" />
<polyline points="295.00,54.70 334.70,73.50 338.70,75.80 338.80,80.30 341.60,121.00" stroke="#2EE02E" stroke-width="2.0" fill="none" stroke-linejoin="round" stroke-linecap="round" stroke-opacity="0.95"/>
<polyline points="338.70,75.80 343.00,72.00 378.50,50.10" stroke="#2EE02E" stroke-width="2.0" fill="none" stroke-linejoin="round" stroke-linecap="round" stroke-opacity="0.95"/>
<polygon points="294.00,49.40 338.40,69.50 334.70,78.20 289.20,57.40" stroke="#111" stroke-width="0.9" fill="none" stroke-linejoin="round" />
<polygon points="338.40,69.50 383.30,43.40 388.30,51.10 343.00,78.20" stroke="#111" stroke-width="0.9" fill="none" stroke-linejoin="round" />
<polygon points="334.70,78.20 343.00,78.20 347.80,126.20 337.40,127.30" stroke="#111" stroke-width="0.9" fill="none" stroke-linejoin="round" />
<circle cx="343.40" cy="71.40" r="1.4" fill="#1515D8" stroke="none" stroke-width="1" />
<circle cx="343.00" cy="116.80" r="1.1" fill="#D83020" stroke="none" stroke-width="1" />
<polyline points="428.20,61.70 460.50,76.30 462.50,79.23 462.60,82.60 465.70,118.00" stroke="#2EE02E" stroke-width="2.0" fill="none" stroke-linejoin="round" stroke-linecap="round" stroke-opacity="0.95"/>
<polyline points="462.50,79.23 466.00,76.50 492.80,58.20" stroke="#2EE02E" stroke-width="2.0" fill="none" stroke-linejoin="round" stroke-linecap="round" stroke-opacity="0.95"/>
<polygon points="425.00,55.90 462.20,73.80 459.00,81.50 421.50,62.40" stroke="#111" stroke-width="0.9" fill="none" stroke-linejoin="round" />
<polygon points="462.20,73.80 499.10,50.90 503.30,58.00 466.30,80.90" stroke="#111" stroke-width="0.9" fill="none" stroke-linejoin="round" />
<polygon points="459.00,81.50 466.30,80.90 469.90,123.30 461.50,123.90" stroke="#111" stroke-width="0.9" fill="none" stroke-linejoin="round" />
<circle cx="435.00" cy="64.40" r="1.4" fill="#1515D8" stroke="none" stroke-width="1" />
<polyline points="551.40,55.20 588.70,73.30 591.30,75.87 590.90,79.70 594.10,124.40" stroke="#2EE02E" stroke-width="2.0" fill="none" stroke-linejoin="round" stroke-linecap="round" stroke-opacity="0.95"/>
<polyline points="591.30,75.87 593.00,73.00 631.40,48.80" stroke="#2EE02E" stroke-width="2.0" fill="none" stroke-linejoin="round" stroke-linecap="round" stroke-opacity="0.95"/>
<polygon points="548.70,49.40 590.90,70.10 587.20,78.00 544.00,57.30" stroke="#111" stroke-width="0.9" fill="none" stroke-linejoin="round" />
<polygon points="590.90,70.10 633.50,43.40 638.40,51.30 595.80,78.00" stroke="#111" stroke-width="0.9" fill="none" stroke-linejoin="round" />
<polygon points="587.20,78.00 595.80,78.00 599.40,126.60 590.20,127.60" stroke="#111" stroke-width="0.9" fill="none" stroke-linejoin="round" />
<circle cx="592.60" cy="114.20" r="1.4" fill="#1515D8" stroke="none" stroke-width="1" />
<circle cx="595.60" cy="118.00" r="1.1" fill="#D83020" stroke="none" stroke-width="1" />
<polyline points="296.00,201.30 337.80,220.10 340.73,223.00 340.90,226.30 343.40,267.00" stroke="#2EE02E" stroke-width="2.0" fill="none" stroke-linejoin="round" stroke-linecap="round" stroke-opacity="0.95"/>
<polyline points="340.73,223.00 343.00,218.40 381.60,196.10" stroke="#2EE02E" stroke-width="2.0" fill="none" stroke-linejoin="round" stroke-linecap="round" stroke-opacity="0.95"/>
<polygon points="295.00,196.70 340.30,216.90 336.80,225.30 290.40,204.00" stroke="#111" stroke-width="0.9" fill="none" stroke-linejoin="round" />
<polygon points="340.30,216.90 385.80,190.90 390.60,198.20 345.10,225.30" stroke="#111" stroke-width="0.9" fill="none" stroke-linejoin="round" />
<polygon points="336.80,225.30 345.10,225.30 349.30,273.70 339.90,274.30" stroke="#111" stroke-width="0.9" fill="none" stroke-linejoin="round" />
<circle cx="380.00" cy="196.70" r="1.4" fill="#1515D8" stroke="none" stroke-width="1" />
<circle cx="343.00" cy="261.20" r="1.1" fill="#D83020" stroke="none" stroke-width="1" />
<polyline points="426.70,203.00 462.60,219.70 467.17,223.90 466.80,227.40 468.90,264.90" stroke="#2EE02E" stroke-width="2.0" fill="none" stroke-linejoin="round" stroke-linecap="round" stroke-opacity="0.95"/>
<polyline points="467.17,223.90 468.00,220.00 504.30,198.20" stroke="#2EE02E" stroke-width="2.0" fill="none" stroke-linejoin="round" stroke-linecap="round" stroke-opacity="0.95"/>
<polygon points="425.00,198.80 466.30,218.40 463.20,225.90 420.40,205.90" stroke="#111" stroke-width="0.9" fill="none" stroke-linejoin="round" />
<polygon points="466.30,218.40 507.40,193.40 512.00,200.30 472.00,225.90" stroke="#111" stroke-width="0.9" fill="none" stroke-linejoin="round" />
<polygon points="463.20,225.90 472.00,225.90 474.70,271.20 465.70,272.20" stroke="#111" stroke-width="0.9" fill="none" stroke-linejoin="round" />
<circle cx="462.00" cy="219.70" r="1.4" fill="#1515D8" stroke="none" stroke-width="1" />
<circle cx="469.90" cy="261.20" r="1.1" fill="#D83020" stroke="none" stroke-width="1" />
<polyline points="550.40,202.00 589.80,220.70 592.80,223.33 593.00,227.50 596.20,272.30" stroke="#2EE02E" stroke-width="2.0" fill="none" stroke-linejoin="round" stroke-linecap="round" stroke-opacity="0.95"/>
<polyline points="592.80,223.33 595.00,220.00 633.50,196.00" stroke="#2EE02E" stroke-width="2.0" fill="none" stroke-linejoin="round" stroke-linecap="round" stroke-opacity="0.95"/>
<polygon points="547.60,196.00 592.40,216.90 588.70,225.80 542.90,203.70" stroke="#111" stroke-width="0.9" fill="none" stroke-linejoin="round" />
<polygon points="592.40,216.90 637.80,189.60 642.70,197.70 597.30,225.80" stroke="#111" stroke-width="0.9" fill="none" stroke-linejoin="round" />
<polygon points="588.70,225.80 597.30,225.80 601.50,278.30 591.90,279.10" stroke="#111" stroke-width="0.9" fill="none" stroke-linejoin="round" />
<circle cx="594.70" cy="265.50" r="1.4" fill="#1515D8" stroke="none" stroke-width="1" />
<circle cx="595.20" cy="267.50" r="1.1" fill="#D83020" stroke="none" stroke-width="1" />
<text x="342.80" y="162.80" font-size="12.5" font-weight="bold" text-anchor="middle" fill="#000" font-family="Liberation Sans" >Control</text>
<text x="469.20" y="162.80" font-size="12.5" font-weight="bold" text-anchor="middle" fill="#000" font-family="Liberation Sans" >Model</text>
<text x="599.00" y="162.80" font-size="12.5" font-weight="bold" text-anchor="middle" fill="#000" font-family="Liberation Sans" >Donepezil</text>
<text x="347.20" y="309.00" font-size="12.5" font-weight="bold" text-anchor="middle" fill="#000" font-family="Liberation Sans" >DSS-H</text>
<text x="474.50" y="309.00" font-size="12.5" font-weight="bold" text-anchor="middle" fill="#000" font-family="Liberation Sans" >DSS-M</text>
<text x="603.70" y="309.00" font-size="12.5" font-weight="bold" text-anchor="middle" fill="#000" font-family="Liberation Sans" >DSS-L</text>
<rect x="17.40" y="349.40" width="101.20" height="94.60" fill="none" stroke="#8C8C8C" stroke-width="1.0" />
<ellipse cx="68.50" cy="396.30" rx="40.6" ry="39.6" fill="none" stroke="#222" stroke-width="0.9"/>
<line x1="19.90" y1="395.90" x2="116.60" y2="395.90" stroke="#45DA45" stroke-width="1.15" />
<line x1="68.30" y1="350.20" x2="68.30" y2="443.40" stroke="#45DA45" stroke-width="1.15" />
<ellipse cx="81.40" cy="409.70" rx="6.5" ry="6.3" fill="none" stroke="#8E3434" stroke-width="0.9"/>
<path d="M45.5,370.6 L47.5,373.0 L52.0,375.5 L56.0,374.0 L59.5,372.5 L61.0,375.0 L59.0,380.0 L60.0,384.0 L64.0,389.0 L67.5,394.5 L68.5,397.0 L69.0,401.0 L72.0,399.5 L76.0,399.0 L80.5,399.5 L82.0,402.0 L83.5,407.0" fill="none" stroke="#74D274" stroke-width="0.8" stroke-linejoin="round"/>
<circle cx="46.50" cy="371.90" r="0.9" fill="#D05030" stroke="none" stroke-width="1" />
<circle cx="83.70" cy="409.10" r="0.9" fill="#2020D0" stroke="none" stroke-width="1" />
<rect x="118.40" y="349.30" width="101.00" height="94.80" fill="none" stroke="#8C8C8C" stroke-width="1.0" />
<ellipse cx="168.70" cy="396.80" rx="40.6" ry="39.6" fill="none" stroke="#222" stroke-width="0.9"/>
<line x1="120.90" y1="396.70" x2="217.40" y2="396.70" stroke="#45DA45" stroke-width="1.15" />
<line x1="168.50" y1="350.10" x2="168.50" y2="443.50" stroke="#45DA45" stroke-width="1.15" />
<ellipse cx="181.50" cy="410.60" rx="6.5" ry="6.3" fill="none" stroke="#8E3434" stroke-width="0.9"/>
<path d="M157.2,368.9 L159.3,370.6 L159.8,375.9 L160.3,382.1 L161.9,389.4 L165.0,393.6 L169.2,396.7 L174.4,399.3 L181.7,401.4 L190.1,402.5 L198.4,402.5 L202.6,401.9 L201.5,404.0 L198.4,408.2 L194.2,412.4 L189.0,416.5 L181.7,420.7 L174.4,423.9 L168.2,425.1 L160.9,424.9 L154.6,423.9 L150.4,421.2 L149.9,417.6 L153.6,416.5 L158.8,418.6 L164.0,422.8 L169.2,425.9 L166.1,428.0 L162.4,429.9 L167.1,430.1 L176.5,428.5 L185.9,425.4 L194.2,420.2 L200.5,413.4 L203.6,406.1 L202.6,396.7 L200.5,386.3 L196.9,375.9 L192.2,368.6 L187.0,364.9 L180.7,363.3 L184.9,363.9 L189.0,366.5 L192.2,371.7 L194.2,381.1 L194.2,391.5 L193.2,401.9 L191.5,410.0 L188.5,416.0 L182.0,421.0 L174.0,425.0 M160.3,374.5 L162.5,371.8 L166.0,370.6 L169.2,370.8 L176.5,370.6 L184.9,372.4 L192.2,374.8 L197.0,379.0 M160.8,379.0 L163.0,383.5 L168.2,385.3 L174.4,383.2 L181.7,376.9 L187.0,367.5 L188.5,364.5 M197.5,384.0 L200.6,392.0 L201.5,399.0" fill="none" stroke="#74D274" stroke-width="0.8" stroke-linejoin="round"/>
<circle cx="157.20" cy="368.90" r="0.9" fill="#D05030" stroke="none" stroke-width="1" />
<circle cx="169.20" cy="372.20" r="0.9" fill="#2020D0" stroke="none" stroke-width="1" />
<rect x="218.90" y="349.30" width="101.10" height="94.80" fill="none" stroke="#8C8C8C" stroke-width="1.0" />
<ellipse cx="269.90" cy="396.80" rx="40.6" ry="39.6" fill="none" stroke="#222" stroke-width="0.9"/>
<line x1="221.40" y1="396.90" x2="318.00" y2="396.90" stroke="#45DA45" stroke-width="1.15" />
<line x1="269.50" y1="350.10" x2="269.50" y2="443.50" stroke="#45DA45" stroke-width="1.15" />
<ellipse cx="283.00" cy="410.60" rx="6.5" ry="6.3" fill="none" stroke="#8E3434" stroke-width="0.9"/>
<path d="M243.1,367.7 L247.0,366.5 L252.5,367.0 L254.0,369.0 L252.0,372.0 L248.0,372.5 L246.0,374.5 L247.5,379.0 L249.0,384.0 L248.0,387.0 L246.0,388.5 L245.5,386.5 L248.0,385.5 L251.5,386.5 L254.0,389.0 L254.5,393.0 L255.5,397.0 L258.0,401.0 L262.0,405.0 L266.0,408.0 L268.5,410.0 L272.0,409.0 L275.5,407.5 L279.0,407.0 L283.3,407.6" fill="none" stroke="#74D274" stroke-width="0.8" stroke-linejoin="round"/>
<circle cx="245.40" cy="370.80" r="0.9" fill="#D05030" stroke="none" stroke-width="1" />
<circle cx="283.30" cy="407.60" r="0.9" fill="#2020D0" stroke="none" stroke-width="1" />
<rect x="17.20" y="472.00" width="101.30" height="94.60" fill="none" stroke="#8C8C8C" stroke-width="1.0" />
<ellipse cx="68.70" cy="518.50" rx="40.6" ry="39.6" fill="none" stroke="#222" stroke-width="0.9"/>
<line x1="19.70" y1="518.30" x2="116.50" y2="518.30" stroke="#45DA45" stroke-width="1.15" />
<line x1="68.70" y1="472.80" x2="68.70" y2="566.00" stroke="#45DA45" stroke-width="1.15" />
<ellipse cx="81.50" cy="532.30" rx="6.5" ry="6.3" fill="none" stroke="#8E3434" stroke-width="0.9"/>
<path d="M51.5,491.5 L52.9,494.7 L53.3,503.6 L56.5,509.0 L63.6,516.2 L69.0,521.5 L74.4,526.9 L80.6,533.7" fill="none" stroke="#74D274" stroke-width="0.8" stroke-linejoin="round"/>
<circle cx="52.60" cy="492.90" r="0.9" fill="#D05030" stroke="none" stroke-width="1" />
<circle cx="80.60" cy="533.70" r="0.9" fill="#2020D0" stroke="none" stroke-width="1" />
<rect x="118.40" y="472.20" width="101.00" height="94.20" fill="none" stroke="#8C8C8C" stroke-width="1.0" />
<ellipse cx="169.00" cy="519.00" rx="40.6" ry="39.6" fill="none" stroke="#222" stroke-width="0.9"/>
<line x1="120.90" y1="518.70" x2="217.40" y2="518.70" stroke="#45DA45" stroke-width="1.15" />
<line x1="168.70" y1="473.00" x2="168.70" y2="565.80" stroke="#45DA45" stroke-width="1.15" />
<ellipse cx="181.50" cy="532.40" rx="6.5" ry="6.3" fill="none" stroke="#8E3434" stroke-width="0.9"/>
<path d="M149.7,492.7 L151.5,495.8 L150.2,502.9 L147.6,513.6 L144.9,526.2 L144.9,536.9 L148.4,544.0 L156.5,550.3 L169.0,552.1 L181.5,551.2 L186.5,548.5 L186.9,538.7 L186.5,534.2 L184.2,534.7 L181.5,535.1" fill="none" stroke="#74D274" stroke-width="0.8" stroke-linejoin="round"/>
<circle cx="151.50" cy="494.90" r="0.9" fill="#D05030" stroke="none" stroke-width="1" />
<circle cx="181.50" cy="535.10" r="0.9" fill="#2020D0" stroke="none" stroke-width="1" />
<rect x="219.30" y="472.00" width="100.70" height="94.40" fill="none" stroke="#8C8C8C" stroke-width="1.0" />
<ellipse cx="269.50" cy="519.50" rx="40.6" ry="39.6" fill="none" stroke="#222" stroke-width="0.9"/>
<line x1="221.80" y1="519.00" x2="318.00" y2="519.00" stroke="#45DA45" stroke-width="1.15" />
<line x1="269.40" y1="472.80" x2="269.40" y2="565.80" stroke="#45DA45" stroke-width="1.15" />
<ellipse cx="282.40" cy="533.30" rx="6.5" ry="6.3" fill="none" stroke="#8E3434" stroke-width="0.9"/>
<path d="M251.1,487.7 L252.9,489.5 L258.3,488.3 L261.9,492.2 L267.2,499.3 L274.4,506.5 L279.7,512.8 L285.1,514.5 L288.7,513.6 L291.4,514.5 L287.8,515.8 L285.1,517.2 L283.3,521.7 L281.5,526.2 L281.2,530.3" fill="none" stroke="#74D274" stroke-width="0.8" stroke-linejoin="round"/>
<circle cx="252.60" cy="490.40" r="0.9" fill="#D05030" stroke="none" stroke-width="1" />
<circle cx="281.20" cy="530.30" r="0.9" fill="#2020D0" stroke="none" stroke-width="1" />
<text x="67.40" y="461.30" font-size="12.5" font-weight="bold" text-anchor="middle" fill="#000" font-family="Liberation Sans" >Control</text>
<text x="170.10" y="461.30" font-size="12.5" font-weight="bold" text-anchor="middle" fill="#000" font-family="Liberation Sans" >Model</text>
<text x="274.30" y="459.60" font-size="12.5" font-weight="bold" text-anchor="middle" fill="#000" font-family="Liberation Sans" >Donepezil</text>
<text x="68.70" y="586.40" font-size="12.5" font-weight="bold" text-anchor="middle" fill="#000" font-family="Liberation Sans" >DSS-H</text>
<text x="174.00" y="585.40" font-size="12.5" font-weight="bold" text-anchor="middle" fill="#000" font-family="Liberation Sans" >DSS-M</text>
<text x="273.50" y="584.80" font-size="12.5" font-weight="bold" text-anchor="middle" fill="#000" font-family="Liberation Sans" >DSS-L</text>
<line x1="374.20" y1="357.30" x2="374.20" y2="557.95" stroke="#000" stroke-width="1.5" />
<line x1="373.45" y1="557.20" x2="612.30" y2="557.20" stroke="#000" stroke-width="1.5" />
<line x1="367.40" y1="557.20" x2="374.20" y2="557.20" stroke="#000" stroke-width="1.5" />
<text x="365.80" y="561.50" font-size="12" font-weight="bold" text-anchor="end" fill="#000" font-family="Liberation Sans" >0</text>
<line x1="367.40" y1="507.40" x2="374.20" y2="507.40" stroke="#000" stroke-width="1.5" />
<text x="365.80" y="511.70" font-size="12" font-weight="bold" text-anchor="end" fill="#000" font-family="Liberation Sans" >20</text>
<line x1="367.40" y1="457.60" x2="374.20" y2="457.60" stroke="#000" stroke-width="1.5" />
<text x="365.80" y="461.90" font-size="12" font-weight="bold" text-anchor="end" fill="#000" font-family="Liberation Sans" >40</text>
<line x1="367.40" y1="407.80" x2="374.20" y2="407.80" stroke="#000" stroke-width="1.5" />
<text x="365.80" y="412.10" font-size="12" font-weight="bold" text-anchor="end" fill="#000" font-family="Liberation Sans" >60</text>
<line x1="367.40" y1="358.00" x2="374.20" y2="358.00" stroke="#000" stroke-width="1.5" />
<text x="365.80" y="362.30" font-size="12" font-weight="bold" text-anchor="end" fill="#000" font-family="Liberation Sans" >80</text>
<line x1="403.70" y1="557.20" x2="403.70" y2="563.50" stroke="#000" stroke-width="1.5" />
<text x="403.70" y="577.50" font-size="12" font-weight="bold" text-anchor="middle" fill="#000" font-family="Liberation Sans" >1</text>
<line x1="448.30" y1="557.20" x2="448.30" y2="563.50" stroke="#000" stroke-width="1.5" />
<text x="448.30" y="577.50" font-size="12" font-weight="bold" text-anchor="middle" fill="#000" font-family="Liberation Sans" >2</text>
<line x1="492.70" y1="557.20" x2="492.70" y2="563.50" stroke="#000" stroke-width="1.5" />
<text x="492.70" y="577.50" font-size="12" font-weight="bold" text-anchor="middle" fill="#000" font-family="Liberation Sans" >3</text>
<line x1="537.40" y1="557.20" x2="537.40" y2="563.50" stroke="#000" stroke-width="1.5" />
<text x="537.40" y="577.50" font-size="12" font-weight="bold" text-anchor="middle" fill="#000" font-family="Liberation Sans" >4</text>
<line x1="581.80" y1="557.20" x2="581.80" y2="563.50" stroke="#000" stroke-width="1.5" />
<text x="581.80" y="577.50" font-size="12" font-weight="bold" text-anchor="middle" fill="#000" font-family="Liberation Sans" >5</text>
<text x="493.30" y="601.30" font-size="12" font-weight="bold" text-anchor="middle" fill="#000" font-family="Liberation Sans" >Day</text>
<text x="344.60" y="456.20" font-size="12" font-weight="bold" text-anchor="middle" fill="#000" font-family="Liberation Sans" transform="rotate(-90 344.6 456.2)">Escape latency (s)</text>
<line x1="448.30" y1="421.00" x2="448.30" y2="436.00" stroke="#7F80B9" stroke-width="1.3" stroke-opacity="0.6"/>
<line x1="444.10" y1="421.00" x2="452.50" y2="421.00" stroke="#7F80B9" stroke-width="1.3" stroke-opacity="0.6"/>
<line x1="444.10" y1="436.00" x2="452.50" y2="436.00" stroke="#7F80B9" stroke-width="1.3" stroke-opacity="0.6"/>
<line x1="492.70" y1="435.80" x2="492.70" y2="458.70" stroke="#7F80B9" stroke-width="1.3" stroke-opacity="0.6"/>
<line x1="488.50" y1="435.80" x2="496.90" y2="435.80" stroke="#7F80B9" stroke-width="1.3" stroke-opacity="0.6"/>
<line x1="488.50" y1="458.70" x2="496.90" y2="458.70" stroke="#7F80B9" stroke-width="1.3" stroke-opacity="0.6"/>
<line x1="581.80" y1="474.60" x2="581.80" y2="484.00" stroke="#7F80B9" stroke-width="1.3" stroke-opacity="0.6"/>
<line x1="577.60" y1="474.60" x2="586.00" y2="474.60" stroke="#7F80B9" stroke-width="1.3" stroke-opacity="0.6"/>
<line x1="577.60" y1="484.00" x2="586.00" y2="484.00" stroke="#7F80B9" stroke-width="1.3" stroke-opacity="0.6"/>
<line x1="537.40" y1="427.00" x2="537.40" y2="443.50" stroke="#63B3A2" stroke-width="1.3" stroke-opacity="0.6"/>
<line x1="533.20" y1="427.00" x2="541.60" y2="427.00" stroke="#63B3A2" stroke-width="1.3" stroke-opacity="0.6"/>
<line x1="533.20" y1="443.50" x2="541.60" y2="443.50" stroke="#63B3A2" stroke-width="1.3" stroke-opacity="0.6"/>
<line x1="581.80" y1="443.30" x2="581.80" y2="467.20" stroke="#63B3A2" stroke-width="1.3" stroke-opacity="0.6"/>
<line x1="577.60" y1="443.30" x2="586.00" y2="443.30" stroke="#63B3A2" stroke-width="1.3" stroke-opacity="0.6"/>
<line x1="577.60" y1="467.20" x2="586.00" y2="467.20" stroke="#63B3A2" stroke-width="1.3" stroke-opacity="0.6"/>
<line x1="537.40" y1="449.50" x2="537.40" y2="463.60" stroke="#5F8BC9" stroke-width="1.3" stroke-opacity="0.6"/>
<line x1="533.20" y1="449.50" x2="541.60" y2="449.50" stroke="#5F8BC9" stroke-width="1.3" stroke-opacity="0.6"/>
<line x1="533.20" y1="463.60" x2="541.60" y2="463.60" stroke="#5F8BC9" stroke-width="1.3" stroke-opacity="0.6"/>
<line x1="581.80" y1="477.00" x2="581.80" y2="491.50" stroke="#5F8BC9" stroke-width="1.3" stroke-opacity="0.6"/>
<line x1="577.60" y1="477.00" x2="586.00" y2="477.00" stroke="#5F8BC9" stroke-width="1.3" stroke-opacity="0.6"/>
<line x1="577.60" y1="491.50" x2="586.00" y2="491.50" stroke="#5F8BC9" stroke-width="1.3" stroke-opacity="0.6"/>
<line x1="492.70" y1="418.50" x2="492.70" y2="429.90" stroke="#F0B050" stroke-width="1.3" stroke-opacity="0.6"/>
<line x1="488.50" y1="418.50" x2="496.90" y2="418.50" stroke="#F0B050" stroke-width="1.3" stroke-opacity="0.6"/>
<line x1="488.50" y1="429.90" x2="496.90" y2="429.90" stroke="#F0B050" stroke-width="1.3" stroke-opacity="0.6"/>
<line x1="581.80" y1="468.30" x2="581.80" y2="498.10" stroke="#F0B050" stroke-width="1.3" stroke-opacity="0.6"/>
<line x1="577.60" y1="468.30" x2="586.00" y2="468.30" stroke="#F0B050" stroke-width="1.3" stroke-opacity="0.6"/>
<line x1="577.60" y1="498.10" x2="586.00" y2="498.10" stroke="#F0B050" stroke-width="1.3" stroke-opacity="0.6"/>
<line x1="492.70" y1="414.40" x2="492.70" y2="425.90" stroke="#AE9547" stroke-width="1.3" stroke-opacity="0.6"/>
<line x1="488.50" y1="414.40" x2="496.90" y2="414.40" stroke="#AE9547" stroke-width="1.3" stroke-opacity="0.6"/>
<line x1="488.50" y1="425.90" x2="496.90" y2="425.90" stroke="#AE9547" stroke-width="1.3" stroke-opacity="0.6"/>
<line x1="581.80" y1="429.70" x2="581.80" y2="443.30" stroke="#AE9547" stroke-width="1.3" stroke-opacity="0.6"/>
<line x1="577.60" y1="429.70" x2="586.00" y2="429.70" stroke="#AE9547" stroke-width="1.3" stroke-opacity="0.6"/>
<line x1="577.60" y1="443.30" x2="586.00" y2="443.30" stroke="#AE9547" stroke-width="1.3" stroke-opacity="0.6"/>
<line x1="403.70" y1="419.40" x2="403.70" y2="425.40" stroke="#E98A7C" stroke-width="1.3" stroke-opacity="0.6"/>
<line x1="399.50" y1="419.40" x2="407.90" y2="419.40" stroke="#E98A7C" stroke-width="1.3" stroke-opacity="0.6"/>
<line x1="399.50" y1="425.40" x2="407.90" y2="425.40" stroke="#E98A7C" stroke-width="1.3" stroke-opacity="0.6"/>
<line x1="448.30" y1="435.00" x2="448.30" y2="449.80" stroke="#E98A7C" stroke-width="1.3" stroke-opacity="0.6"/>
<line x1="444.10" y1="435.00" x2="452.50" y2="435.00" stroke="#E98A7C" stroke-width="1.3" stroke-opacity="0.6"/>
<line x1="444.10" y1="449.80" x2="452.50" y2="449.80" stroke="#E98A7C" stroke-width="1.3" stroke-opacity="0.6"/>
<line x1="492.70" y1="471.10" x2="492.70" y2="494.10" stroke="#E98A7C" stroke-width="1.3" stroke-opacity="0.6"/>
<line x1="488.50" y1="471.10" x2="496.90" y2="471.10" stroke="#E98A7C" stroke-width="1.3" stroke-opacity="0.6"/>
<line x1="488.50" y1="494.10" x2="496.90" y2="494.10" stroke="#E98A7C" stroke-width="1.3" stroke-opacity="0.6"/>
<line x1="537.40" y1="477.40" x2="537.40" y2="502.30" stroke="#E98A7C" stroke-width="1.3" stroke-opacity="0.6"/>
<line x1="533.20" y1="477.40" x2="541.60" y2="477.40" stroke="#E98A7C" stroke-width="1.3" stroke-opacity="0.6"/>
<line x1="533.20" y1="502.30" x2="541.60" y2="502.30" stroke="#E98A7C" stroke-width="1.3" stroke-opacity="0.6"/>
<line x1="581.80" y1="492.80" x2="581.80" y2="506.60" stroke="#E98A7C" stroke-width="1.3" stroke-opacity="0.6"/>
<line x1="577.60" y1="492.80" x2="586.00" y2="492.80" stroke="#E98A7C" stroke-width="1.3" stroke-opacity="0.6"/>
<line x1="577.60" y1="506.60" x2="586.00" y2="506.60" stroke="#E98A7C" stroke-width="1.3" stroke-opacity="0.6"/>
<polyline points="403.70,413.53 448.30,427.47 492.70,444.65 537.40,435.19 581.80,479.26" stroke="#7F80B9" stroke-width="1.4" fill="none" stroke-linejoin="round" />
<polyline points="403.70,418.76 448.30,408.80 492.70,437.43 537.40,435.19 581.80,453.12" stroke="#63B3A2" stroke-width="1.4" fill="none" stroke-linejoin="round" />
<polyline points="403.70,410.79 448.30,422.74 492.70,430.71 537.40,456.36 581.80,484.24" stroke="#5F8BC9" stroke-width="1.4" fill="none" stroke-linejoin="round" />
<polyline points="403.70,411.78 448.30,418.76 492.70,424.23 537.40,422.49 581.80,483.25" stroke="#F0B050" stroke-width="1.4" fill="none" stroke-linejoin="round" />
<polyline points="403.70,409.54 448.30,412.03 492.70,420.00 537.40,414.52 581.80,436.68" stroke="#AE9547" stroke-width="1.4" fill="none" stroke-linejoin="round" />
<polyline points="403.70,422.49 448.30,442.91 492.70,482.50 537.40,489.72 581.80,499.68" stroke="#E98A7C" stroke-width="1.4" fill="none" stroke-linejoin="round" />
<circle cx="403.70" cy="413.53" r="4.6" fill="#7F80B9" stroke="none" stroke-width="1" />
<circle cx="448.30" cy="427.47" r="4.6" fill="#7F80B9" stroke="none" stroke-width="1" />
<circle cx="492.70" cy="444.65" r="4.6" fill="#7F80B9" stroke="none" stroke-width="1" />
<circle cx="537.40" cy="435.19" r="4.6" fill="#7F80B9" stroke="none" stroke-width="1" />
<circle cx="581.80" cy="479.26" r="4.6" fill="#7F80B9" stroke="none" stroke-width="1" />
<polygon points="403.70,414.86 407.60,418.76 403.70,422.66 399.80,418.76" fill="#63B3A2"/>
<polygon points="448.30,404.90 452.20,408.80 448.30,412.70 444.40,408.80" fill="#63B3A2"/>
<polygon points="492.70,433.53 496.60,437.43 492.70,441.33 488.80,437.43" fill="#63B3A2"/>
<polygon points="537.40,431.29 541.30,435.19 537.40,439.09 533.50,435.19" fill="#63B3A2"/>
<polygon points="581.80,449.22 585.70,453.12 581.80,457.02 577.90,453.12" fill="#63B3A2"/>
<polygon points="403.70,415.09 408.30,407.49 399.10,407.49" fill="#5F8BC9"/>
<polygon points="448.30,427.04 452.90,419.44 443.70,419.44" fill="#5F8BC9"/>
<polygon points="492.70,435.01 497.30,427.41 488.10,427.41" fill="#5F8BC9"/>
<polygon points="537.40,460.66 542.00,453.06 532.80,453.06" fill="#5F8BC9"/>
<polygon points="581.80,488.54 586.40,480.94 577.20,480.94" fill="#5F8BC9"/>
<polygon points="403.70,407.48 408.30,415.08 399.10,415.08" fill="#F0B050"/>
<polygon points="448.30,414.46 452.90,422.06 443.70,422.06" fill="#F0B050"/>
<polygon points="492.70,419.93 497.30,427.53 488.10,427.53" fill="#F0B050"/>
<polygon points="537.40,418.19 542.00,425.79 532.80,425.79" fill="#F0B050"/>
<polygon points="581.80,478.95 586.40,486.55 577.20,486.55" fill="#F0B050"/>
<rect x="399.70" y="405.54" width="8.00" height="8.00" fill="#AE9547" stroke="none" stroke-width="1" />
<rect x="444.30" y="408.03" width="8.00" height="8.00" fill="#AE9547" stroke="none" stroke-width="1" />
<rect x="488.70" y="416.00" width="8.00" height="8.00" fill="#AE9547" stroke="none" stroke-width="1" />
<rect x="533.40" y="410.52" width="8.00" height="8.00" fill="#AE9547" stroke="none" stroke-width="1" />
<rect x="577.80" y="432.68" width="8.00" height="8.00" fill="#AE9547" stroke="none" stroke-width="1" />
<circle cx="403.70" cy="422.49" r="3.8" fill="#E98A7C" stroke="none" stroke-width="1" />
<circle cx="448.30" cy="442.91" r="3.8" fill="#E98A7C" stroke="none" stroke-width="1" />
<circle cx="492.70" cy="482.50" r="3.8" fill="#E98A7C" stroke="none" stroke-width="1" />
<circle cx="537.40" cy="489.72" r="3.8" fill="#E98A7C" stroke="none" stroke-width="1" />
<circle cx="581.80" cy="499.68" r="3.8" fill="#E98A7C" stroke="none" stroke-width="1" />
<line x1="620.70" y1="364.30" x2="637.50" y2="364.30" stroke="#E98A7C" stroke-width="1.4" />
<circle cx="629.10" cy="364.30" r="3.8" fill="#E98A7C" stroke="none" stroke-width="1" />
<text x="647.00" y="368.60" font-size="12" font-weight="normal" text-anchor="start" fill="#111" font-family="Liberation Sans" >Con</text>
<line x1="620.70" y1="385.60" x2="637.50" y2="385.60" stroke="#AE9547" stroke-width="1.4" />
<rect x="625.10" y="381.60" width="8.00" height="8.00" fill="#AE9547" stroke="none" stroke-width="1" />
<text x="647.00" y="389.90" font-size="12" font-weight="normal" text-anchor="start" fill="#111" font-family="Liberation Sans" >Mod</text>
<line x1="620.70" y1="407.10" x2="637.50" y2="407.10" stroke="#F0B050" stroke-width="1.4" />
<polygon points="629.10,402.80 633.70,410.40 624.50,410.40" fill="#F0B050"/>
<text x="647.00" y="411.40" font-size="12" font-weight="normal" text-anchor="start" fill="#111" font-family="Liberation Sans" >Don</text>
<line x1="620.70" y1="428.00" x2="637.50" y2="428.00" stroke="#5F8BC9" stroke-width="1.4" />
<polygon points="629.10,432.30 633.70,424.70 624.50,424.70" fill="#5F8BC9"/>
<text x="647.00" y="432.30" font-size="12" font-weight="normal" text-anchor="start" fill="#111" font-family="Liberation Sans" >DH</text>
<line x1="620.70" y1="449.80" x2="637.50" y2="449.80" stroke="#63B3A2" stroke-width="1.4" />
<polygon points="629.10,445.90 633.00,449.80 629.10,453.70 625.20,449.80" fill="#63B3A2"/>
<text x="647.00" y="454.10" font-size="12" font-weight="normal" text-anchor="start" fill="#111" font-family="Liberation Sans" >DM</text>
<line x1="620.70" y1="471.10" x2="637.50" y2="471.10" stroke="#7F80B9" stroke-width="1.4" />
<circle cx="629.10" cy="471.10" r="4.6" fill="#7F80B9" stroke="none" stroke-width="1" />
<text x="647.00" y="475.40" font-size="12" font-weight="normal" text-anchor="start" fill="#111" font-family="Liberation Sans" >DL</text>
<text x="612.70" y="393.60" font-size="12" font-weight="normal" text-anchor="middle" fill="#444" font-family="Liberation Serif" >##</text>
<path d="M609.40,403.90 L609.40,409.10 M607.15,405.20 L611.65,407.80 M607.15,407.80 L611.65,405.20 " stroke="#555" stroke-width="1.0" fill="none" stroke-linecap="butt"/>
<path d="M615.40,403.90 L615.40,409.10 M613.15,405.20 L617.65,407.80 M613.15,407.80 L617.65,405.20 " stroke="#555" stroke-width="1.0" fill="none" stroke-linecap="butt"/>
<path d="M609.40,424.80 L609.40,430.00 M607.15,426.10 L611.65,428.70 M607.15,428.70 L611.65,426.10 " stroke="#555" stroke-width="1.0" fill="none" stroke-linecap="butt"/>
<path d="M615.40,424.80 L615.40,430.00 M613.15,426.10 L617.65,428.70 M613.15,428.70 L617.65,426.10 " stroke="#555" stroke-width="1.0" fill="none" stroke-linecap="butt"/>
<path d="M609.40,467.90 L609.40,473.10 M607.15,469.20 L611.65,471.80 M607.15,471.80 L611.65,469.20 " stroke="#555" stroke-width="1.0" fill="none" stroke-linecap="butt"/>
<path d="M615.40,467.90 L615.40,473.10 M613.15,469.20 L617.65,471.80 M613.15,471.80 L617.65,469.20 " stroke="#555" stroke-width="1.0" fill="none" stroke-linecap="butt"/>
<path d="M52.50,814.80 L52.50,734.50 L71.50,734.50 L71.50,814.80" fill="none" stroke="#E98A7C" stroke-width="1.0" stroke-opacity="0.8"/>
<path d="M81.50,814.80 L81.50,810.50 L100.50,810.50 L100.50,814.80" fill="none" stroke="#AE9547" stroke-width="1.0" stroke-opacity="0.8"/>
<path d="M110.50,814.80 L110.50,760.50 L129.50,760.50 L129.50,814.80" fill="none" stroke="#F0B050" stroke-width="1.0" stroke-opacity="0.8"/>
<path d="M139.50,814.80 L139.50,772.50 L158.50,772.50 L158.50,814.80" fill="none" stroke="#5F8BC9" stroke-width="1.0" stroke-opacity="0.8"/>
<path d="M168.50,814.80 L168.50,778.50 L187.50,778.50 L187.50,814.80" fill="none" stroke="#63B3A2" stroke-width="1.0" stroke-opacity="0.8"/>
<path d="M197.50,814.80 L197.50,781.50 L216.50,781.50 L216.50,814.80" fill="none" stroke="#7F80B9" stroke-width="1.0" stroke-opacity="0.8"/>
<circle cx="61.70" cy="657.30" r="2.55" fill="#E98A7C" stroke="none" stroke-width="1" />
<circle cx="61.80" cy="709.80" r="2.55" fill="#E98A7C" stroke="none" stroke-width="1" />
<circle cx="68.80" cy="709.80" r="2.55" fill="#E98A7C" stroke="none" stroke-width="1" />
<circle cx="61.80" cy="727.30" r="2.55" fill="#E98A7C" stroke="none" stroke-width="1" />
<circle cx="68.80" cy="727.30" r="2.55" fill="#E98A7C" stroke="none" stroke-width="1" />
<circle cx="61.80" cy="744.80" r="2.55" fill="#E98A7C" stroke="none" stroke-width="1" />
<circle cx="68.80" cy="744.80" r="2.55" fill="#E98A7C" stroke="none" stroke-width="1" />
<circle cx="61.80" cy="762.30" r="2.55" fill="#E98A7C" stroke="none" stroke-width="1" />
<circle cx="54.90" cy="779.80" r="2.55" fill="#E98A7C" stroke="none" stroke-width="1" />
<circle cx="68.80" cy="779.80" r="2.55" fill="#E98A7C" stroke="none" stroke-width="1" />
<circle cx="90.90" cy="779.80" r="2.55" fill="#AE9547" stroke="none" stroke-width="1" />
<circle cx="90.90" cy="797.30" r="2.55" fill="#AE9547" stroke="none" stroke-width="1" />
<circle cx="82.80" cy="814.80" r="2.55" fill="#AE9547" stroke="none" stroke-width="1" />
<circle cx="85.60" cy="814.80" r="2.55" fill="#AE9547" stroke="none" stroke-width="1" />
<circle cx="88.40" cy="814.80" r="2.55" fill="#AE9547" stroke="none" stroke-width="1" />
<circle cx="91.20" cy="814.80" r="2.55" fill="#AE9547" stroke="none" stroke-width="1" />
<circle cx="94.00" cy="814.80" r="2.55" fill="#AE9547" stroke="none" stroke-width="1" />
<circle cx="96.80" cy="814.80" r="2.55" fill="#AE9547" stroke="none" stroke-width="1" />
<circle cx="99.60" cy="814.80" r="2.55" fill="#AE9547" stroke="none" stroke-width="1" />
<circle cx="119.50" cy="709.80" r="2.55" fill="#F0B050" stroke="none" stroke-width="1" />
<circle cx="112.70" cy="727.30" r="2.55" fill="#F0B050" stroke="none" stroke-width="1" />
<circle cx="126.80" cy="727.30" r="2.55" fill="#F0B050" stroke="none" stroke-width="1" />
<circle cx="119.50" cy="744.80" r="2.55" fill="#F0B050" stroke="none" stroke-width="1" />
<circle cx="119.50" cy="762.30" r="2.55" fill="#F0B050" stroke="none" stroke-width="1" />
<circle cx="112.70" cy="779.80" r="2.55" fill="#F0B050" stroke="none" stroke-width="1" />
<circle cx="119.50" cy="779.80" r="2.55" fill="#F0B050" stroke="none" stroke-width="1" />
<circle cx="126.80" cy="779.80" r="2.55" fill="#F0B050" stroke="none" stroke-width="1" />
<circle cx="112.70" cy="797.30" r="2.55" fill="#F0B050" stroke="none" stroke-width="1" />
<circle cx="126.80" cy="797.30" r="2.55" fill="#F0B050" stroke="none" stroke-width="1" />
<circle cx="141.20" cy="744.80" r="2.55" fill="#5F8BC9" stroke="none" stroke-width="1" />
<circle cx="145.70" cy="744.80" r="2.55" fill="#5F8BC9" stroke="none" stroke-width="1" />
<circle cx="155.70" cy="744.80" r="2.55" fill="#5F8BC9" stroke="none" stroke-width="1" />
<circle cx="145.70" cy="762.30" r="2.55" fill="#5F8BC9" stroke="none" stroke-width="1" />
<circle cx="150.30" cy="762.30" r="2.55" fill="#5F8BC9" stroke="none" stroke-width="1" />
<circle cx="145.70" cy="779.80" r="2.55" fill="#5F8BC9" stroke="none" stroke-width="1" />
<circle cx="141.20" cy="797.30" r="2.55" fill="#5F8BC9" stroke="none" stroke-width="1" />
<circle cx="145.70" cy="797.30" r="2.55" fill="#5F8BC9" stroke="none" stroke-width="1" />
<circle cx="150.30" cy="797.30" r="2.55" fill="#5F8BC9" stroke="none" stroke-width="1" />
<circle cx="155.70" cy="797.30" r="2.55" fill="#5F8BC9" stroke="none" stroke-width="1" />
<circle cx="179.90" cy="709.80" r="2.55" fill="#63B3A2" stroke="none" stroke-width="1" />
<circle cx="175.40" cy="762.30" r="2.55" fill="#63B3A2" stroke="none" stroke-width="1" />
<circle cx="169.00" cy="779.80" r="2.55" fill="#63B3A2" stroke="none" stroke-width="1" />
<circle cx="173.20" cy="779.80" r="2.55" fill="#63B3A2" stroke="none" stroke-width="1" />
<circle cx="177.50" cy="779.80" r="2.55" fill="#63B3A2" stroke="none" stroke-width="1" />
<circle cx="181.80" cy="779.80" r="2.55" fill="#63B3A2" stroke="none" stroke-width="1" />
<circle cx="186.00" cy="779.80" r="2.55" fill="#63B3A2" stroke="none" stroke-width="1" />
<circle cx="169.00" cy="797.30" r="2.55" fill="#63B3A2" stroke="none" stroke-width="1" />
<circle cx="173.20" cy="797.30" r="2.55" fill="#63B3A2" stroke="none" stroke-width="1" />
<circle cx="177.50" cy="797.30" r="2.55" fill="#63B3A2" stroke="none" stroke-width="1" />
<circle cx="181.80" cy="797.30" r="2.55" fill="#63B3A2" stroke="none" stroke-width="1" />
<circle cx="186.00" cy="797.30" r="2.55" fill="#63B3A2" stroke="none" stroke-width="1" />
<circle cx="206.60" cy="744.80" r="2.55" fill="#7F80B9" stroke="none" stroke-width="1" />
<circle cx="206.60" cy="762.30" r="2.55" fill="#7F80B9" stroke="none" stroke-width="1" />
<circle cx="213.40" cy="762.30" r="2.55" fill="#7F80B9" stroke="none" stroke-width="1" />
<circle cx="199.30" cy="779.80" r="2.55" fill="#7F80B9" stroke="none" stroke-width="1" />
<circle cx="206.60" cy="779.80" r="2.55" fill="#7F80B9" stroke="none" stroke-width="1" />
<circle cx="213.40" cy="779.80" r="2.55" fill="#7F80B9" stroke="none" stroke-width="1" />
<circle cx="199.30" cy="797.30" r="2.55" fill="#7F80B9" stroke="none" stroke-width="1" />
<circle cx="206.60" cy="797.30" r="2.55" fill="#7F80B9" stroke="none" stroke-width="1" />
<circle cx="213.40" cy="797.30" r="2.55" fill="#7F80B9" stroke="none" stroke-width="1" />
<circle cx="206.60" cy="814.80" r="2.55" fill="#7F80B9" stroke="none" stroke-width="1" />
<line x1="62.00" y1="722.60" x2="62.00" y2="746.50" stroke="#E98A7C" stroke-width="1.2" />
<line x1="57.30" y1="722.60" x2="66.70" y2="722.60" stroke="#E98A7C" stroke-width="1.2" />
<line x1="57.30" y1="746.50" x2="66.70" y2="746.50" stroke="#E98A7C" stroke-width="1.2" />
<line x1="90.90" y1="805.80" x2="90.90" y2="814.80" stroke="#AE9547" stroke-width="1.2" />
<line x1="86.20" y1="805.80" x2="95.60" y2="805.80" stroke="#AE9547" stroke-width="1.2" />
<line x1="86.20" y1="814.80" x2="95.60" y2="814.80" stroke="#AE9547" stroke-width="1.2" />
<line x1="119.70" y1="750.90" x2="119.70" y2="770.60" stroke="#F0B050" stroke-width="1.2" />
<line x1="115.00" y1="750.90" x2="124.40" y2="750.90" stroke="#F0B050" stroke-width="1.2" />
<line x1="115.00" y1="770.60" x2="124.40" y2="770.60" stroke="#F0B050" stroke-width="1.2" />
<line x1="148.60" y1="765.40" x2="148.60" y2="780.30" stroke="#5F8BC9" stroke-width="1.2" />
<line x1="143.90" y1="765.40" x2="153.30" y2="765.40" stroke="#5F8BC9" stroke-width="1.2" />
<line x1="143.90" y1="780.30" x2="153.30" y2="780.30" stroke="#5F8BC9" stroke-width="1.2" />
<line x1="177.50" y1="769.80" x2="177.50" y2="786.40" stroke="#63B3A2" stroke-width="1.2" />
<line x1="172.80" y1="769.80" x2="182.20" y2="769.80" stroke="#63B3A2" stroke-width="1.2" />
<line x1="172.80" y1="786.40" x2="182.20" y2="786.40" stroke="#63B3A2" stroke-width="1.2" />
<line x1="206.50" y1="775.10" x2="206.50" y2="788.00" stroke="#7F80B9" stroke-width="1.2" />
<line x1="201.80" y1="775.10" x2="211.20" y2="775.10" stroke="#7F80B9" stroke-width="1.2" />
<line x1="201.80" y1="788.00" x2="211.20" y2="788.00" stroke="#7F80B9" stroke-width="1.2" />
<line x1="42.60" y1="639.30" x2="42.60" y2="815.55" stroke="#000" stroke-width="1.5" />
<line x1="41.85" y1="814.80" x2="227.00" y2="814.80" stroke="#000" stroke-width="1.5" />
<line x1="35.80" y1="814.80" x2="42.60" y2="814.80" stroke="#000" stroke-width="1.5" />
<text x="34.00" y="818.90" font-size="12.5" font-weight="bold" text-anchor="end" fill="#000" font-family="Liberation Sans" >0</text>
<line x1="35.80" y1="779.80" x2="42.60" y2="779.80" stroke="#000" stroke-width="1.5" />
<text x="34.00" y="783.90" font-size="12.5" font-weight="bold" text-anchor="end" fill="#000" font-family="Liberation Sans" >2</text>
<line x1="35.80" y1="744.80" x2="42.60" y2="744.80" stroke="#000" stroke-width="1.5" />
<text x="34.00" y="748.90" font-size="12.5" font-weight="bold" text-anchor="end" fill="#000" font-family="Liberation Sans" >4</text>
<line x1="35.80" y1="709.80" x2="42.60" y2="709.80" stroke="#000" stroke-width="1.5" />
<text x="34.00" y="713.90" font-size="12.5" font-weight="bold" text-anchor="end" fill="#000" font-family="Liberation Sans" >6</text>
<line x1="35.80" y1="674.80" x2="42.60" y2="674.80" stroke="#000" stroke-width="1.5" />
<text x="34.00" y="678.90" font-size="12.5" font-weight="bold" text-anchor="end" fill="#000" font-family="Liberation Sans" >8</text>
<line x1="35.80" y1="639.80" x2="42.60" y2="639.80" stroke="#000" stroke-width="1.5" />
<text x="34.00" y="643.90" font-size="12.5" font-weight="bold" text-anchor="end" fill="#000" font-family="Liberation Sans" >10</text>
<line x1="62.00" y1="814.80" x2="62.00" y2="821.80" stroke="#000" stroke-width="1.5" />
<text x="62.00" y="833.60" font-size="10" font-weight="bold" text-anchor="middle" fill="#000" font-family="Liberation Sans" >Con</text>
<line x1="90.90" y1="814.80" x2="90.90" y2="821.80" stroke="#000" stroke-width="1.5" />
<text x="90.90" y="833.60" font-size="10" font-weight="bold" text-anchor="middle" fill="#000" font-family="Liberation Sans" >Mod</text>
<line x1="119.70" y1="814.80" x2="119.70" y2="821.80" stroke="#000" stroke-width="1.5" />
<text x="119.70" y="833.60" font-size="10" font-weight="bold" text-anchor="middle" fill="#000" font-family="Liberation Sans" >Don</text>
<line x1="148.60" y1="814.80" x2="148.60" y2="821.80" stroke="#000" stroke-width="1.5" />
<text x="148.60" y="833.60" font-size="10" font-weight="bold" text-anchor="middle" fill="#000" font-family="Liberation Sans" >DH</text>
<line x1="177.50" y1="814.80" x2="177.50" y2="821.80" stroke="#000" stroke-width="1.5" />
<text x="177.50" y="833.60" font-size="10" font-weight="bold" text-anchor="middle" fill="#000" font-family="Liberation Sans" >DM</text>
<line x1="206.50" y1="814.80" x2="206.50" y2="821.80" stroke="#000" stroke-width="1.5" />
<text x="206.50" y="833.60" font-size="10" font-weight="bold" text-anchor="middle" fill="#000" font-family="Liberation Sans" >DL</text>
<text x="10.90" y="725.40" font-size="13" font-weight="bold" text-anchor="middle" fill="#000" font-family="Liberation Sans" transform="rotate(-90 10.90 725.40)">Target entries</text>
<line x1="88.10" y1="636.50" x2="206.10" y2="636.50" stroke="#333" stroke-width="1.3" />
<text x="147.40" y="628.60" font-size="11.5" font-weight="normal" text-anchor="middle" fill="#111" font-family="Liberation Serif" >ns</text>
<line x1="88.10" y1="656.50" x2="177.40" y2="656.50" stroke="#333" stroke-width="1.3" />
<text x="132.50" y="649.30" font-size="11.5" font-weight="normal" text-anchor="middle" fill="#111" font-family="Liberation Serif" >ns</text>
<line x1="60.70" y1="656.50" x2="85.70" y2="656.50" stroke="#333" stroke-width="1.3" />
<text x="72.80" y="648.80" font-size="11" font-weight="normal" text-anchor="middle" fill="#444" font-family="Liberation Serif" >##</text>
<line x1="89.70" y1="675.50" x2="149.80" y2="675.50" stroke="#333" stroke-width="1.3" />
<path d="M120.00,661.40 L120.00,668.00 M117.14,663.05 L122.86,666.35 M117.14,666.35 L122.86,663.05 " stroke="#111" stroke-width="1.4" fill="none" stroke-linecap="butt"/>
<line x1="89.70" y1="695.50" x2="118.40" y2="695.50" stroke="#777" stroke-width="1.3" />
<path d="M100.95,682.35 L100.95,688.45 M98.31,683.88 L103.59,686.92 M98.31,686.92 L103.59,683.88 " stroke="#111" stroke-width="1.4" fill="none" stroke-linecap="butt"/>
<path d="M108.85,682.35 L108.85,688.45 M106.21,683.88 L111.49,686.92 M106.21,686.92 L111.49,683.88 " stroke="#111" stroke-width="1.4" fill="none" stroke-linecap="butt"/>
<path d="M275.50,815.40 L275.50,712.50 L294.50,712.50 L294.50,815.40" fill="none" stroke="#E98A7C" stroke-width="1.0" stroke-opacity="0.8"/>
<path d="M304.50,815.40 L304.50,772.50 L323.50,772.50 L323.50,815.40" fill="none" stroke="#AE9547" stroke-width="1.0" stroke-opacity="0.8"/>
<path d="M333.50,815.40 L333.50,726.50 L352.50,726.50 L352.50,815.40" fill="none" stroke="#F0B050" stroke-width="1.0" stroke-opacity="0.8"/>
<path d="M361.50,815.40 L361.50,730.50 L380.50,730.50 L380.50,815.40" fill="none" stroke="#5F8BC9" stroke-width="1.0" stroke-opacity="0.8"/>
<path d="M390.50,815.40 L390.50,734.50 L409.50,734.50 L409.50,815.40" fill="none" stroke="#63B3A2" stroke-width="1.0" stroke-opacity="0.8"/>
<path d="M419.50,815.40 L419.50,761.50 L438.50,761.50 L438.50,815.40" fill="none" stroke="#7F80B9" stroke-width="1.0" stroke-opacity="0.8"/>
<circle cx="284.50" cy="681.50" r="2.55" fill="#E98A7C" stroke="none" stroke-width="1" />
<circle cx="277.40" cy="699.50" r="2.55" fill="#E98A7C" stroke="none" stroke-width="1" />
<circle cx="284.50" cy="696.30" r="2.55" fill="#E98A7C" stroke="none" stroke-width="1" />
<circle cx="284.50" cy="703.70" r="2.55" fill="#E98A7C" stroke="none" stroke-width="1" />
<circle cx="277.40" cy="719.90" r="2.55" fill="#E98A7C" stroke="none" stroke-width="1" />
<circle cx="284.50" cy="718.00" r="2.55" fill="#E98A7C" stroke="none" stroke-width="1" />
<circle cx="291.50" cy="718.00" r="2.55" fill="#E98A7C" stroke="none" stroke-width="1" />
<circle cx="291.50" cy="723.00" r="2.55" fill="#E98A7C" stroke="none" stroke-width="1" />
<circle cx="284.50" cy="724.50" r="2.55" fill="#E98A7C" stroke="none" stroke-width="1" />
<circle cx="284.50" cy="731.60" r="2.55" fill="#E98A7C" stroke="none" stroke-width="1" />
<circle cx="313.60" cy="740.30" r="2.55" fill="#AE9547" stroke="none" stroke-width="1" />
<circle cx="313.60" cy="750.10" r="2.55" fill="#AE9547" stroke="none" stroke-width="1" />
<circle cx="320.30" cy="750.10" r="2.55" fill="#AE9547" stroke="none" stroke-width="1" />
<circle cx="306.70" cy="767.20" r="2.55" fill="#AE9547" stroke="none" stroke-width="1" />
<circle cx="313.60" cy="767.20" r="2.55" fill="#AE9547" stroke="none" stroke-width="1" />
<circle cx="320.30" cy="767.20" r="2.55" fill="#AE9547" stroke="none" stroke-width="1" />
<circle cx="313.60" cy="772.00" r="2.55" fill="#AE9547" stroke="none" stroke-width="1" />
<circle cx="313.60" cy="778.00" r="2.55" fill="#AE9547" stroke="none" stroke-width="1" />
<circle cx="313.60" cy="798.40" r="2.55" fill="#AE9547" stroke="none" stroke-width="1" />
<circle cx="320.30" cy="796.50" r="2.55" fill="#AE9547" stroke="none" stroke-width="1" />
<circle cx="313.60" cy="804.70" r="2.55" fill="#AE9547" stroke="none" stroke-width="1" />
<circle cx="344.80" cy="696.30" r="2.55" fill="#F0B050" stroke="none" stroke-width="1" />
<circle cx="344.80" cy="702.30" r="2.55" fill="#F0B050" stroke="none" stroke-width="1" />
<circle cx="340.10" cy="706.00" r="2.55" fill="#F0B050" stroke="none" stroke-width="1" />
<circle cx="344.80" cy="717.10" r="2.55" fill="#F0B050" stroke="none" stroke-width="1" />
<circle cx="340.10" cy="721.20" r="2.55" fill="#F0B050" stroke="none" stroke-width="1" />
<circle cx="344.80" cy="723.00" r="2.55" fill="#F0B050" stroke="none" stroke-width="1" />
<circle cx="340.10" cy="745.90" r="2.55" fill="#F0B050" stroke="none" stroke-width="1" />
<circle cx="335.50" cy="750.90" r="2.55" fill="#F0B050" stroke="none" stroke-width="1" />
<circle cx="344.80" cy="749.60" r="2.55" fill="#F0B050" stroke="none" stroke-width="1" />
<circle cx="349.40" cy="749.00" r="2.55" fill="#F0B050" stroke="none" stroke-width="1" />
<circle cx="371.30" cy="673.60" r="2.55" fill="#5F8BC9" stroke="none" stroke-width="1" />
<circle cx="371.30" cy="699.90" r="2.55" fill="#5F8BC9" stroke="none" stroke-width="1" />
<circle cx="364.30" cy="720.80" r="2.55" fill="#5F8BC9" stroke="none" stroke-width="1" />
<circle cx="371.30" cy="727.90" r="2.55" fill="#5F8BC9" stroke="none" stroke-width="1" />
<circle cx="378.40" cy="725.50" r="2.55" fill="#5F8BC9" stroke="none" stroke-width="1" />
<circle cx="364.30" cy="730.10" r="2.55" fill="#5F8BC9" stroke="none" stroke-width="1" />
<circle cx="378.40" cy="748.30" r="2.55" fill="#5F8BC9" stroke="none" stroke-width="1" />
<circle cx="371.30" cy="753.30" r="2.55" fill="#5F8BC9" stroke="none" stroke-width="1" />
<circle cx="364.30" cy="758.80" r="2.55" fill="#5F8BC9" stroke="none" stroke-width="1" />
<circle cx="378.40" cy="757.00" r="2.55" fill="#5F8BC9" stroke="none" stroke-width="1" />
<circle cx="400.10" cy="690.20" r="2.55" fill="#63B3A2" stroke="none" stroke-width="1" />
<circle cx="400.10" cy="695.80" r="2.55" fill="#63B3A2" stroke="none" stroke-width="1" />
<circle cx="400.10" cy="709.30" r="2.55" fill="#63B3A2" stroke="none" stroke-width="1" />
<circle cx="393.00" cy="723.00" r="2.55" fill="#63B3A2" stroke="none" stroke-width="1" />
<circle cx="400.10" cy="727.90" r="2.55" fill="#63B3A2" stroke="none" stroke-width="1" />
<circle cx="400.10" cy="742.70" r="2.55" fill="#63B3A2" stroke="none" stroke-width="1" />
<circle cx="407.10" cy="751.40" r="2.55" fill="#63B3A2" stroke="none" stroke-width="1" />
<circle cx="400.10" cy="753.80" r="2.55" fill="#63B3A2" stroke="none" stroke-width="1" />
<circle cx="400.10" cy="765.70" r="2.55" fill="#63B3A2" stroke="none" stroke-width="1" />
<circle cx="400.10" cy="778.30" r="2.55" fill="#63B3A2" stroke="none" stroke-width="1" />
<circle cx="429.20" cy="739.00" r="2.55" fill="#7F80B9" stroke="none" stroke-width="1" />
<circle cx="429.20" cy="745.30" r="2.55" fill="#7F80B9" stroke="none" stroke-width="1" />
<circle cx="432.90" cy="754.60" r="2.55" fill="#7F80B9" stroke="none" stroke-width="1" />
<circle cx="421.40" cy="761.10" r="2.55" fill="#7F80B9" stroke="none" stroke-width="1" />
<circle cx="426.10" cy="761.10" r="2.55" fill="#7F80B9" stroke="none" stroke-width="1" />
<circle cx="429.20" cy="764.40" r="2.55" fill="#7F80B9" stroke="none" stroke-width="1" />
<circle cx="432.60" cy="764.40" r="2.55" fill="#7F80B9" stroke="none" stroke-width="1" />
<circle cx="436.30" cy="764.40" r="2.55" fill="#7F80B9" stroke="none" stroke-width="1" />
<circle cx="421.40" cy="767.20" r="2.55" fill="#7F80B9" stroke="none" stroke-width="1" />
<circle cx="429.20" cy="790.40" r="2.55" fill="#7F80B9" stroke="none" stroke-width="1" />
<line x1="284.60" y1="706.50" x2="284.60" y2="715.30" stroke="#E98A7C" stroke-width="1.2" />
<line x1="279.90" y1="706.50" x2="289.30" y2="706.50" stroke="#E98A7C" stroke-width="1.2" />
<line x1="279.90" y1="715.30" x2="289.30" y2="715.30" stroke="#E98A7C" stroke-width="1.2" />
<line x1="313.60" y1="765.30" x2="313.60" y2="779.60" stroke="#AE9547" stroke-width="1.2" />
<line x1="308.90" y1="765.30" x2="318.30" y2="765.30" stroke="#AE9547" stroke-width="1.2" />
<line x1="308.90" y1="779.60" x2="318.30" y2="779.60" stroke="#AE9547" stroke-width="1.2" />
<line x1="342.60" y1="719.50" x2="342.60" y2="733.20" stroke="#F0B050" stroke-width="1.2" />
<line x1="337.90" y1="719.50" x2="347.30" y2="719.50" stroke="#F0B050" stroke-width="1.2" />
<line x1="337.90" y1="733.20" x2="347.30" y2="733.20" stroke="#F0B050" stroke-width="1.2" />
<line x1="371.10" y1="720.80" x2="371.10" y2="738.40" stroke="#5F8BC9" stroke-width="1.2" />
<line x1="366.40" y1="720.80" x2="375.80" y2="720.80" stroke="#5F8BC9" stroke-width="1.2" />
<line x1="366.40" y1="738.40" x2="375.80" y2="738.40" stroke="#5F8BC9" stroke-width="1.2" />
<line x1="400.10" y1="724.50" x2="400.10" y2="743.50" stroke="#63B3A2" stroke-width="1.2" />
<line x1="395.40" y1="724.50" x2="404.80" y2="724.50" stroke="#63B3A2" stroke-width="1.2" />
<line x1="395.40" y1="743.50" x2="404.80" y2="743.50" stroke="#63B3A2" stroke-width="1.2" />
<line x1="428.90" y1="756.40" x2="428.90" y2="765.30" stroke="#7F80B9" stroke-width="1.2" />
<line x1="424.20" y1="756.40" x2="433.60" y2="756.40" stroke="#7F80B9" stroke-width="1.2" />
<line x1="424.20" y1="765.30" x2="433.60" y2="765.30" stroke="#7F80B9" stroke-width="1.2" />
<line x1="265.60" y1="640.50" x2="265.60" y2="816.15" stroke="#000" stroke-width="1.5" />
<line x1="264.85" y1="815.40" x2="448.30" y2="815.40" stroke="#000" stroke-width="1.5" />
<line x1="258.80" y1="815.40" x2="265.60" y2="815.40" stroke="#000" stroke-width="1.5" />
<text x="257.00" y="819.50" font-size="12.5" font-weight="bold" text-anchor="end" fill="#000" font-family="Liberation Sans" >0</text>
<line x1="258.80" y1="771.80" x2="265.60" y2="771.80" stroke="#000" stroke-width="1.5" />
<text x="257.00" y="775.90" font-size="12.5" font-weight="bold" text-anchor="end" fill="#000" font-family="Liberation Sans" >10</text>
<line x1="258.80" y1="728.20" x2="265.60" y2="728.20" stroke="#000" stroke-width="1.5" />
<text x="257.00" y="732.30" font-size="12.5" font-weight="bold" text-anchor="end" fill="#000" font-family="Liberation Sans" >20</text>
<line x1="258.80" y1="684.60" x2="265.60" y2="684.60" stroke="#000" stroke-width="1.5" />
<text x="257.00" y="688.70" font-size="12.5" font-weight="bold" text-anchor="end" fill="#000" font-family="Liberation Sans" >30</text>
<line x1="258.80" y1="641.00" x2="265.60" y2="641.00" stroke="#000" stroke-width="1.5" />
<text x="257.00" y="645.10" font-size="12.5" font-weight="bold" text-anchor="end" fill="#000" font-family="Liberation Sans" >40</text>
<line x1="284.60" y1="815.40" x2="284.60" y2="822.40" stroke="#000" stroke-width="1.5" />
<text x="284.60" y="833.60" font-size="10" font-weight="bold" text-anchor="middle" fill="#000" font-family="Liberation Sans" >Con</text>
<line x1="313.60" y1="815.40" x2="313.60" y2="822.40" stroke="#000" stroke-width="1.5" />
<text x="313.60" y="833.60" font-size="10" font-weight="bold" text-anchor="middle" fill="#000" font-family="Liberation Sans" >Mod</text>
<line x1="342.60" y1="815.40" x2="342.60" y2="822.40" stroke="#000" stroke-width="1.5" />
<text x="342.60" y="833.60" font-size="10" font-weight="bold" text-anchor="middle" fill="#000" font-family="Liberation Sans" >Don</text>
<line x1="371.10" y1="815.40" x2="371.10" y2="822.40" stroke="#000" stroke-width="1.5" />
<text x="371.10" y="833.60" font-size="10" font-weight="bold" text-anchor="middle" fill="#000" font-family="Liberation Sans" >DH</text>
<line x1="400.10" y1="815.40" x2="400.10" y2="822.40" stroke="#000" stroke-width="1.5" />
<text x="400.10" y="833.60" font-size="10" font-weight="bold" text-anchor="middle" fill="#000" font-family="Liberation Sans" >DM</text>
<line x1="428.90" y1="815.40" x2="428.90" y2="822.40" stroke="#000" stroke-width="1.5" />
<text x="428.90" y="833.60" font-size="10" font-weight="bold" text-anchor="middle" fill="#000" font-family="Liberation Sans" >DL</text>
<text x="233.00" y="724.50" font-size="13" font-weight="bold" text-anchor="middle" fill="#000" font-family="Liberation Sans" transform="rotate(-90 233.00 724.50)">Quadrant occupancy (s)</text>
<line x1="313.60" y1="623.50" x2="426.30" y2="623.50" stroke="#333" stroke-width="1.3" />
<text x="370.50" y="615.80" font-size="11.5" font-weight="normal" text-anchor="middle" fill="#111" font-family="Liberation Serif" >ns</text>
<line x1="315.10" y1="643.50" x2="399.20" y2="643.50" stroke="#666" stroke-width="1.3" />
<path d="M354.25,630.25 L354.25,636.35 M351.61,631.77 L356.89,634.82 M351.61,634.82 L356.89,631.77 " stroke="#111" stroke-width="1.4" fill="none" stroke-linecap="butt"/>
<path d="M362.15,630.25 L362.15,636.35 M359.51,631.77 L364.79,634.82 M359.51,634.82 L364.79,631.77 " stroke="#111" stroke-width="1.4" fill="none" stroke-linecap="butt"/>
<line x1="314.30" y1="662.50" x2="367.00" y2="662.50" stroke="#333" stroke-width="1.3" />
<path d="M337.65,649.25 L337.65,655.35 M335.01,650.77 L340.29,653.82 M335.01,653.82 L340.29,650.77 " stroke="#111" stroke-width="1.4" fill="none" stroke-linecap="butt"/>
<path d="M345.55,649.25 L345.55,655.35 M342.91,650.77 L348.19,653.82 M342.91,653.82 L348.19,650.77 " stroke="#111" stroke-width="1.4" fill="none" stroke-linecap="butt"/>
<line x1="284.40" y1="662.50" x2="308.50" y2="662.50" stroke="#333" stroke-width="1.3" />
<text x="296.50" y="655.00" font-size="11" font-weight="normal" text-anchor="middle" fill="#444" font-family="Liberation Serif" >##</text>
<line x1="315.60" y1="683.50" x2="342.20" y2="683.50" stroke="#333" stroke-width="1.3" />
<path d="M325.55,669.85 L325.55,675.95 M322.91,671.38 L328.19,674.42 M322.91,674.42 L328.19,671.38 " stroke="#111" stroke-width="1.4" fill="none" stroke-linecap="butt"/>
<path d="M333.45,669.85 L333.45,675.95 M330.81,671.38 L336.09,674.42 M330.81,674.42 L336.09,671.38 " stroke="#111" stroke-width="1.4" fill="none" stroke-linecap="butt"/>
<path d="M495.50,814.60 L495.50,785.50 L514.50,785.50 L514.50,814.60" fill="none" stroke="#E98A7C" stroke-width="1.0" stroke-opacity="0.8"/>
<path d="M524.50,814.60 L524.50,708.50 L543.50,708.50 L543.50,814.60" fill="none" stroke="#AE9547" stroke-width="1.0" stroke-opacity="0.8"/>
<path d="M553.50,814.60 L553.50,783.50 L572.50,783.50 L572.50,814.60" fill="none" stroke="#F0B050" stroke-width="1.0" stroke-opacity="0.8"/>
<path d="M582.50,814.60 L582.50,774.50 L601.50,774.50 L601.50,814.60" fill="none" stroke="#5F8BC9" stroke-width="1.0" stroke-opacity="0.8"/>
<path d="M611.50,814.60 L611.50,767.50 L630.50,767.50 L630.50,814.60" fill="none" stroke="#63B3A2" stroke-width="1.0" stroke-opacity="0.8"/>
<path d="M640.50,814.60 L640.50,760.50 L659.50,760.50 L659.50,814.60" fill="none" stroke="#7F80B9" stroke-width="1.0" stroke-opacity="0.8"/>
<circle cx="507.60" cy="767.20" r="2.55" fill="#E98A7C" stroke="none" stroke-width="1" />
<circle cx="503.00" cy="770.00" r="2.55" fill="#E98A7C" stroke="none" stroke-width="1" />
<circle cx="498.00" cy="781.70" r="2.55" fill="#E98A7C" stroke="none" stroke-width="1" />
<circle cx="512.50" cy="779.30" r="2.55" fill="#E98A7C" stroke="none" stroke-width="1" />
<circle cx="503.00" cy="784.80" r="2.55" fill="#E98A7C" stroke="none" stroke-width="1" />
<circle cx="507.60" cy="786.70" r="2.55" fill="#E98A7C" stroke="none" stroke-width="1" />
<circle cx="512.50" cy="784.80" r="2.55" fill="#E98A7C" stroke="none" stroke-width="1" />
<circle cx="498.00" cy="787.20" r="2.55" fill="#E98A7C" stroke="none" stroke-width="1" />
<circle cx="503.00" cy="790.40" r="2.55" fill="#E98A7C" stroke="none" stroke-width="1" />
<circle cx="507.60" cy="797.30" r="2.55" fill="#E98A7C" stroke="none" stroke-width="1" />
<circle cx="503.00" cy="799.10" r="2.55" fill="#E98A7C" stroke="none" stroke-width="1" />
<circle cx="534.20" cy="689.30" r="2.55" fill="#AE9547" stroke="none" stroke-width="1" />
<circle cx="527.30" cy="697.60" r="2.55" fill="#AE9547" stroke="none" stroke-width="1" />
<circle cx="534.20" cy="699.50" r="2.55" fill="#AE9547" stroke="none" stroke-width="1" />
<circle cx="541.20" cy="696.70" r="2.55" fill="#AE9547" stroke="none" stroke-width="1" />
<circle cx="527.30" cy="709.70" r="2.55" fill="#AE9547" stroke="none" stroke-width="1" />
<circle cx="534.20" cy="708.80" r="2.55" fill="#AE9547" stroke="none" stroke-width="1" />
<circle cx="541.20" cy="710.60" r="2.55" fill="#AE9547" stroke="none" stroke-width="1" />
<circle cx="527.30" cy="716.20" r="2.55" fill="#AE9547" stroke="none" stroke-width="1" />
<circle cx="534.20" cy="714.30" r="2.55" fill="#AE9547" stroke="none" stroke-width="1" />
<circle cx="541.20" cy="718.60" r="2.55" fill="#AE9547" stroke="none" stroke-width="1" />
<circle cx="534.20" cy="730.10" r="2.55" fill="#AE9547" stroke="none" stroke-width="1" />
<circle cx="556.10" cy="762.60" r="2.55" fill="#F0B050" stroke="none" stroke-width="1" />
<circle cx="556.10" cy="771.30" r="2.55" fill="#F0B050" stroke="none" stroke-width="1" />
<circle cx="562.90" cy="773.30" r="2.55" fill="#F0B050" stroke="none" stroke-width="1" />
<circle cx="570.00" cy="771.30" r="2.55" fill="#F0B050" stroke="none" stroke-width="1" />
<circle cx="556.10" cy="782.60" r="2.55" fill="#F0B050" stroke="none" stroke-width="1" />
<circle cx="570.00" cy="786.10" r="2.55" fill="#F0B050" stroke="none" stroke-width="1" />
<circle cx="556.10" cy="792.20" r="2.55" fill="#F0B050" stroke="none" stroke-width="1" />
<circle cx="562.90" cy="794.50" r="2.55" fill="#F0B050" stroke="none" stroke-width="1" />
<circle cx="556.10" cy="797.80" r="2.55" fill="#F0B050" stroke="none" stroke-width="1" />
<circle cx="570.00" cy="797.40" r="2.55" fill="#F0B050" stroke="none" stroke-width="1" />
<circle cx="591.90" cy="718.10" r="2.55" fill="#5F8BC9" stroke="none" stroke-width="1" />
<circle cx="591.90" cy="738.50" r="2.55" fill="#5F8BC9" stroke="none" stroke-width="1" />
<circle cx="591.90" cy="770.00" r="2.55" fill="#5F8BC9" stroke="none" stroke-width="1" />
<circle cx="584.90" cy="779.00" r="2.55" fill="#5F8BC9" stroke="none" stroke-width="1" />
<circle cx="591.90" cy="775.60" r="2.55" fill="#5F8BC9" stroke="none" stroke-width="1" />
<circle cx="598.80" cy="778.40" r="2.55" fill="#5F8BC9" stroke="none" stroke-width="1" />
<circle cx="591.90" cy="782.70" r="2.55" fill="#5F8BC9" stroke="none" stroke-width="1" />
<circle cx="591.90" cy="793.80" r="2.55" fill="#5F8BC9" stroke="none" stroke-width="1" />
<circle cx="584.90" cy="802.90" r="2.55" fill="#5F8BC9" stroke="none" stroke-width="1" />
<circle cx="598.80" cy="802.00" r="2.55" fill="#5F8BC9" stroke="none" stroke-width="1" />
<circle cx="620.70" cy="720.80" r="2.55" fill="#63B3A2" stroke="none" stroke-width="1" />
<circle cx="620.70" cy="726.80" r="2.55" fill="#63B3A2" stroke="none" stroke-width="1" />
<circle cx="620.70" cy="753.70" r="2.55" fill="#63B3A2" stroke="none" stroke-width="1" />
<circle cx="627.60" cy="761.70" r="2.55" fill="#63B3A2" stroke="none" stroke-width="1" />
<circle cx="620.70" cy="768.20" r="2.55" fill="#63B3A2" stroke="none" stroke-width="1" />
<circle cx="613.60" cy="771.30" r="2.55" fill="#63B3A2" stroke="none" stroke-width="1" />
<circle cx="627.60" cy="785.80" r="2.55" fill="#63B3A2" stroke="none" stroke-width="1" />
<circle cx="620.70" cy="788.10" r="2.55" fill="#63B3A2" stroke="none" stroke-width="1" />
<circle cx="613.60" cy="798.30" r="2.55" fill="#63B3A2" stroke="none" stroke-width="1" />
<circle cx="627.60" cy="797.30" r="2.55" fill="#63B3A2" stroke="none" stroke-width="1" />
<circle cx="649.50" cy="719.50" r="2.55" fill="#7F80B9" stroke="none" stroke-width="1" />
<circle cx="649.50" cy="731.40" r="2.55" fill="#7F80B9" stroke="none" stroke-width="1" />
<circle cx="649.50" cy="749.30" r="2.55" fill="#7F80B9" stroke="none" stroke-width="1" />
<circle cx="642.40" cy="756.10" r="2.55" fill="#7F80B9" stroke="none" stroke-width="1" />
<circle cx="649.50" cy="759.50" r="2.55" fill="#7F80B9" stroke="none" stroke-width="1" />
<circle cx="649.50" cy="768.70" r="2.55" fill="#7F80B9" stroke="none" stroke-width="1" />
<circle cx="642.40" cy="771.50" r="2.55" fill="#7F80B9" stroke="none" stroke-width="1" />
<circle cx="656.30" cy="770.60" r="2.55" fill="#7F80B9" stroke="none" stroke-width="1" />
<circle cx="649.50" cy="782.50" r="2.55" fill="#7F80B9" stroke="none" stroke-width="1" />
<circle cx="649.50" cy="794.60" r="2.55" fill="#7F80B9" stroke="none" stroke-width="1" />
<line x1="505.40" y1="781.10" x2="505.40" y2="789.50" stroke="#E98A7C" stroke-width="1.2" />
<line x1="500.70" y1="781.10" x2="510.10" y2="781.10" stroke="#E98A7C" stroke-width="1.2" />
<line x1="500.70" y1="789.50" x2="510.10" y2="789.50" stroke="#E98A7C" stroke-width="1.2" />
<line x1="534.20" y1="704.10" x2="534.20" y2="712.50" stroke="#AE9547" stroke-width="1.2" />
<line x1="529.50" y1="704.10" x2="538.90" y2="704.10" stroke="#AE9547" stroke-width="1.2" />
<line x1="529.50" y1="712.50" x2="538.90" y2="712.50" stroke="#AE9547" stroke-width="1.2" />
<line x1="562.90" y1="779.30" x2="562.90" y2="787.20" stroke="#F0B050" stroke-width="1.2" />
<line x1="558.20" y1="779.30" x2="567.60" y2="779.30" stroke="#F0B050" stroke-width="1.2" />
<line x1="558.20" y1="787.20" x2="567.60" y2="787.20" stroke="#F0B050" stroke-width="1.2" />
<line x1="591.90" y1="765.80" x2="591.90" y2="780.30" stroke="#5F8BC9" stroke-width="1.2" />
<line x1="587.20" y1="765.80" x2="596.60" y2="765.80" stroke="#5F8BC9" stroke-width="1.2" />
<line x1="587.20" y1="780.30" x2="596.60" y2="780.30" stroke="#5F8BC9" stroke-width="1.2" />
<line x1="620.70" y1="758.40" x2="620.70" y2="775.60" stroke="#63B3A2" stroke-width="1.2" />
<line x1="616.00" y1="758.40" x2="625.40" y2="758.40" stroke="#63B3A2" stroke-width="1.2" />
<line x1="616.00" y1="775.60" x2="625.40" y2="775.60" stroke="#63B3A2" stroke-width="1.2" />
<line x1="649.50" y1="753.30" x2="649.50" y2="766.30" stroke="#7F80B9" stroke-width="1.2" />
<line x1="644.80" y1="753.30" x2="654.20" y2="753.30" stroke="#7F80B9" stroke-width="1.2" />
<line x1="644.80" y1="766.30" x2="654.20" y2="766.30" stroke="#7F80B9" stroke-width="1.2" />
<line x1="486.50" y1="640.90" x2="486.50" y2="815.35" stroke="#000" stroke-width="1.5" />
<line x1="485.75" y1="814.60" x2="669.30" y2="814.60" stroke="#000" stroke-width="1.5" />
<line x1="479.70" y1="814.60" x2="486.50" y2="814.60" stroke="#000" stroke-width="1.5" />
<text x="477.90" y="818.70" font-size="12.5" font-weight="bold" text-anchor="end" fill="#000" font-family="Liberation Sans" >0</text>
<line x1="479.70" y1="771.30" x2="486.50" y2="771.30" stroke="#000" stroke-width="1.5" />
<text x="477.90" y="775.40" font-size="12.5" font-weight="bold" text-anchor="end" fill="#000" font-family="Liberation Sans" >20</text>
<line x1="479.70" y1="728.00" x2="486.50" y2="728.00" stroke="#000" stroke-width="1.5" />
<text x="477.90" y="732.10" font-size="12.5" font-weight="bold" text-anchor="end" fill="#000" font-family="Liberation Sans" >40</text>
<line x1="479.70" y1="684.70" x2="486.50" y2="684.70" stroke="#000" stroke-width="1.5" />
<text x="477.90" y="688.80" font-size="12.5" font-weight="bold" text-anchor="end" fill="#000" font-family="Liberation Sans" >60</text>
<line x1="479.70" y1="641.40" x2="486.50" y2="641.40" stroke="#000" stroke-width="1.5" />
<text x="477.90" y="645.50" font-size="12.5" font-weight="bold" text-anchor="end" fill="#000" font-family="Liberation Sans" >80</text>
<line x1="505.40" y1="814.60" x2="505.40" y2="821.60" stroke="#000" stroke-width="1.5" />
<text x="505.40" y="833.60" font-size="10" font-weight="bold" text-anchor="middle" fill="#000" font-family="Liberation Sans" >Con</text>
<line x1="534.20" y1="814.60" x2="534.20" y2="821.60" stroke="#000" stroke-width="1.5" />
<text x="534.20" y="833.60" font-size="10" font-weight="bold" text-anchor="middle" fill="#000" font-family="Liberation Sans" >Mod</text>
<line x1="562.90" y1="814.60" x2="562.90" y2="821.60" stroke="#000" stroke-width="1.5" />
<text x="562.90" y="833.60" font-size="10" font-weight="bold" text-anchor="middle" fill="#000" font-family="Liberation Sans" >Don</text>
<line x1="591.90" y1="814.60" x2="591.90" y2="821.60" stroke="#000" stroke-width="1.5" />
<text x="591.90" y="833.60" font-size="10" font-weight="bold" text-anchor="middle" fill="#000" font-family="Liberation Sans" >DH</text>
<line x1="620.70" y1="814.60" x2="620.70" y2="821.60" stroke="#000" stroke-width="1.5" />
<text x="620.70" y="833.60" font-size="10" font-weight="bold" text-anchor="middle" fill="#000" font-family="Liberation Sans" >DM</text>
<line x1="649.50" y1="814.60" x2="649.50" y2="821.60" stroke="#000" stroke-width="1.5" />
<text x="649.50" y="833.60" font-size="10" font-weight="bold" text-anchor="middle" fill="#000" font-family="Liberation Sans" >DL</text>
<text x="454.00" y="726.10" font-size="13" font-weight="bold" text-anchor="middle" fill="#000" font-family="Liberation Sans" transform="rotate(-90 454.00 726.10)">Latency (s)</text>
<line x1="536.20" y1="602.50" x2="653.70" y2="602.50" stroke="#333" stroke-width="1.3" />
<path d="M591.75,589.25 L591.75,595.35 M589.11,590.77 L594.39,593.82 M589.11,593.82 L594.39,590.77 " stroke="#111" stroke-width="1.4" fill="none" stroke-linecap="butt"/>
<path d="M599.65,589.25 L599.65,595.35 M597.01,590.77 L602.29,593.82 M597.01,593.82 L602.29,590.77 " stroke="#111" stroke-width="1.4" fill="none" stroke-linecap="butt"/>
<line x1="536.20" y1="623.50" x2="620.50" y2="623.50" stroke="#333" stroke-width="1.3" />
<path d="M575.05,609.45 L575.05,615.55 M572.41,610.98 L577.69,614.02 M572.41,614.02 L577.69,610.98 " stroke="#111" stroke-width="1.4" fill="none" stroke-linecap="butt"/>
<path d="M582.95,609.45 L582.95,615.55 M580.31,610.98 L585.59,614.02 M580.31,614.02 L585.59,610.98 " stroke="#111" stroke-width="1.4" fill="none" stroke-linecap="butt"/>
<line x1="536.20" y1="641.50" x2="593.80" y2="641.50" stroke="#333" stroke-width="1.3" />
<path d="M562.15,627.45 L562.15,633.55 M559.51,628.98 L564.79,632.02 M559.51,632.02 L564.79,628.98 " stroke="#111" stroke-width="1.4" fill="none" stroke-linecap="butt"/>
<path d="M570.05,627.45 L570.05,633.55 M567.41,628.98 L572.69,632.02 M567.41,632.02 L572.69,628.98 " stroke="#111" stroke-width="1.4" fill="none" stroke-linecap="butt"/>
<line x1="535.70" y1="659.50" x2="561.20" y2="659.50" stroke="#333" stroke-width="1.3" />
<path d="M545.15,646.05 L545.15,652.15 M542.51,647.58 L547.79,650.62 M542.51,650.62 L547.79,647.58 " stroke="#111" stroke-width="1.4" fill="none" stroke-linecap="butt"/>
<path d="M553.05,646.05 L553.05,652.15 M550.41,647.58 L555.69,650.62 M550.41,650.62 L555.69,647.58 " stroke="#111" stroke-width="1.4" fill="none" stroke-linecap="butt"/>
<line x1="505.60" y1="659.50" x2="530.60" y2="659.50" stroke="#333" stroke-width="1.3" />
<text x="517.80" y="652.40" font-size="11" font-weight="normal" text-anchor="middle" fill="#444" font-family="Liberation Serif" >##</text>
</svg>
</body></html>
